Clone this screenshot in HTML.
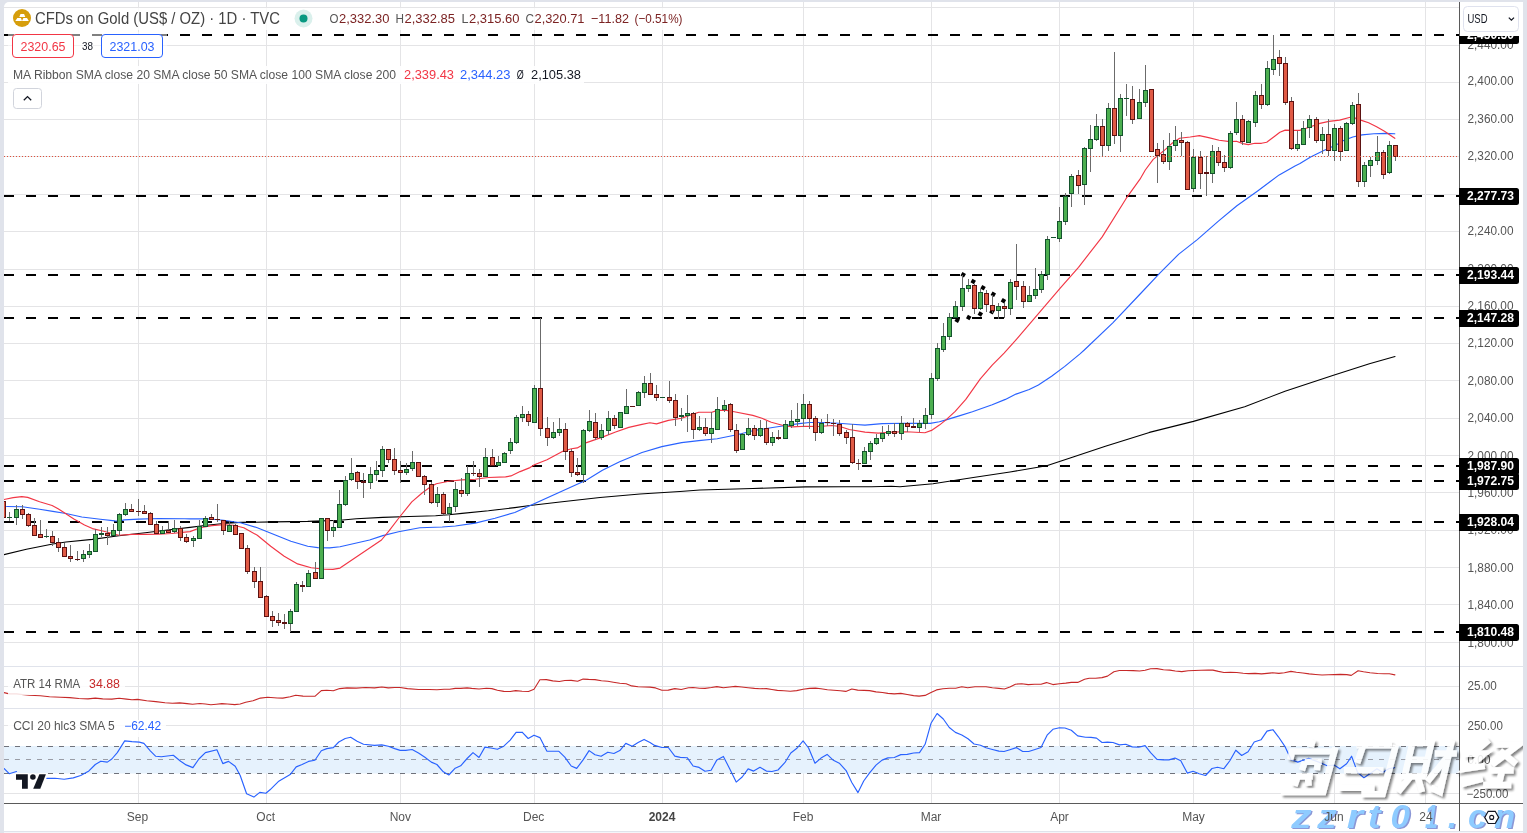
<!DOCTYPE html><html><head><meta charset="utf-8"><title>chart</title><style>html,body{margin:0;padding:0;background:#e0e3eb;}body{width:1527px;height:833px;overflow:hidden;position:relative;font-family:"Liberation Sans",sans-serif;}svg{will-change:transform;transform:translateZ(0);}</style></head><body><svg width="1527" height="833" viewBox="0 0 1527 833" style="position:absolute;left:0;top:0;font-family:'Liberation Sans',sans-serif">
<defs>
<clipPath id="cpMain"><rect x="4" y="2" width="1455" height="664"/></clipPath>
<clipPath id="cpAll"><rect x="4" y="2" width="1455" height="801"/></clipPath>
<filter id="wmsh" x="-10%" y="-20%" width="120%" height="150%"><feDropShadow dx="2.2" dy="2.2" stdDeviation="0.9" flood-color="#000" flood-opacity="0.55"/></filter>
<clipPath id="cpPanel"><rect x="4" y="2" width="1519" height="829"/></clipPath>
</defs>
<rect x="0" y="0" width="1527" height="833" fill="#e0e3eb"/>
<path d="M4 831 V7 a5 5 0 0 1 5 -5 H1518 a5 5 0 0 1 5 5 V831 Z" fill="#fff"/>
<rect x="4" y="832" width="1519" height="1" fill="#f4f5f9"/>
<g shape-rendering="crispEdges">
<rect x="4" y="7" width="1455" height="1" fill="#e4e4e6"/>
<rect x="4" y="45" width="1455" height="1" fill="#e4e4e6"/>
<rect x="4" y="82" width="1455" height="1" fill="#e4e4e6"/>
<rect x="4" y="119" width="1455" height="1" fill="#e4e4e6"/>
<rect x="4" y="156" width="1455" height="1" fill="#e4e4e6"/>
<rect x="4" y="194" width="1455" height="1" fill="#e4e4e6"/>
<rect x="4" y="231" width="1455" height="1" fill="#e4e4e6"/>
<rect x="4" y="269" width="1455" height="1" fill="#e4e4e6"/>
<rect x="4" y="306" width="1455" height="1" fill="#e4e4e6"/>
<rect x="4" y="343" width="1455" height="1" fill="#e4e4e6"/>
<rect x="4" y="380" width="1455" height="1" fill="#e4e4e6"/>
<rect x="4" y="418" width="1455" height="1" fill="#e4e4e6"/>
<rect x="4" y="455" width="1455" height="1" fill="#e4e4e6"/>
<rect x="4" y="492" width="1455" height="1" fill="#e4e4e6"/>
<rect x="4" y="530" width="1455" height="1" fill="#e4e4e6"/>
<rect x="4" y="567" width="1455" height="1" fill="#e4e4e6"/>
<rect x="4" y="604" width="1455" height="1" fill="#e4e4e6"/>
<rect x="4" y="642" width="1455" height="1" fill="#e4e4e6"/>
<rect x="4" y="686" width="1455" height="1" fill="#e4e4e6"/>
<rect x="4" y="725" width="1455" height="1" fill="#e4e4e6"/>
<rect x="4" y="793" width="1455" height="1" fill="#e4e4e6"/>
<rect x="138" y="2" width="1" height="801" fill="#e4e4e6"/>
<rect x="266" y="2" width="1" height="801" fill="#e4e4e6"/>
<rect x="400" y="2" width="1" height="801" fill="#e4e4e6"/>
<rect x="534" y="2" width="1" height="801" fill="#e4e4e6"/>
<rect x="662" y="2" width="1" height="801" fill="#e4e4e6"/>
<rect x="803" y="2" width="1" height="801" fill="#e4e4e6"/>
<rect x="931" y="2" width="1" height="801" fill="#e4e4e6"/>
<rect x="1059" y="2" width="1" height="801" fill="#e4e4e6"/>
<rect x="1193" y="2" width="1" height="801" fill="#e4e4e6"/>
<rect x="1334" y="2" width="1" height="801" fill="#e4e4e6"/>
<rect x="1425" y="2" width="1" height="801" fill="#e4e4e6"/>
<rect x="4" y="666" width="1519" height="1" fill="#e0e3eb"/>
<rect x="4" y="708" width="1519" height="1" fill="#e0e3eb"/>
</g>
<rect x="4" y="746" width="1455" height="27.5" fill="#e6f2fd"/>
<g shape-rendering="crispEdges" stroke-width="1" stroke-dasharray="5 6">
<line x1="4" y1="746.5" x2="1459" y2="746.5" stroke="#6f727b"/>
<line x1="4" y1="759.5" x2="1459" y2="759.5" stroke="#9a9da6"/>
<line x1="48" y1="773.5" x2="1459" y2="773.5" stroke="#6f727b"/>
<line x1="4" y1="773.5" x2="9" y2="773.5" stroke="#6f727b"/>
</g>
<g clip-path="url(#cpMain)" stroke="#000" stroke-width="2" stroke-dasharray="10 12" shape-rendering="crispEdges">
<line x1="4" y1="35" x2="1459" y2="35"/>
<line x1="4" y1="196" x2="1459" y2="196"/>
<line x1="4" y1="275" x2="1459" y2="275"/>
<line x1="4" y1="318" x2="1459" y2="318"/>
<line x1="4" y1="466" x2="1459" y2="466"/>
<line x1="4" y1="481" x2="1459" y2="481"/>
<line x1="4" y1="522" x2="1459" y2="522"/>
<line x1="4" y1="632" x2="1459" y2="632"/>
</g>
<g clip-path="url(#cpMain)" fill="none" stroke-linejoin="round" stroke-linecap="round">
<path d="M4 554.6 L26.4 549.3 L52.8 544 L66 542 L92.4 539.4 L118.8 535.7 L145.2 532.8 L171.6 529.5 L190 527.4 L206.8 525.2 L223.6 523.5 L240.4 522.4 L274.1 521.9 L307.7 521.4 L340 520.2 L356.4 518.7 L382.8 517.4 L409.2 516.5 L435.6 515.8 L448.8 514.8 L462 513.4 L488.4 510.8 L514.8 507.6 L530 505.5 L560 502 L600 497.5 L640 494 L680 491.5 L700 490 L752.8 488.5 L805.6 486.9 L845.2 486.7 L871.6 486.7 L891.4 486.3 L900 486.7 L933 483.7 L973.3 477.5 L1010 472 L1046.7 465.8 L1072.4 457.3 L1105.4 446.3 L1149.4 432.4 L1193.4 421.4 L1244.7 406.7 L1285 391.3 L1332.7 375.6 L1369.4 363.8 L1395 356.5" stroke="#000000" stroke-width="1.1"/>
<path d="M6.6 506.5 L22.4 506.7 L39.6 509.3 L52.8 511.4 L66 513.5 L81.8 517 L100.3 519.2 L114.9 520.9 L119.5 521.2 L124.1 519.9 L138.6 519.1 L158.4 518.5 L184.8 518.8 L190 518.8 L206.8 518.8 L223.6 520.2 L240.4 522.7 L257.3 527.7 L274.1 534.5 L290.9 541.2 L307.7 546.2 L317.8 547.6 L329.6 547.9 L340 546.7 L369.6 540 L382.8 535.6 L398.6 531.7 L419.8 527.7 L442.2 527 L455.4 526 L475.2 523.1 L495 518.2 L514.8 512.5 L586.6 480 L602.4 470.3 L619.6 461.7 L642 452.5 L661.8 446.6 L681.6 442.6 L698.8 440.6 L717.2 438.7 L737 434.8 L752.8 430.8 L772.6 427.5 L785.8 425.5 L799 423.6 L809.6 422.5 L822.8 422.5 L838.6 423.3 L851.8 424.2 L865 425.1 L882.2 423.6 L906.4 423.2 L930.2 423.4 L939.4 421.8 L946 419.9 L959.2 415.9 L972.4 411.7 L992.2 404.7 L1005.4 399.4 L1016 394.1 L1029.2 389.5 L1038.4 384.9 L1051.6 376.3 L1064.8 366.4 L1080 353.9 L1084.3 350 L1112.8 322.8 L1139.2 295 L1160.3 272.6 L1178.8 254.1 L1197.3 239.6 L1218.4 221.1 L1236.9 205.8 L1258 190.7 L1279.2 174.9 L1295 166 L1300 163.6 L1310.6 157 L1323.8 150.4 L1337 144.5 L1343.6 140.5 L1352.8 137 L1362 134.9 L1373.9 133.7 L1385.8 133.4 L1394.8 133.8" stroke="#2962ff" stroke-width="1.15"/>
<path d="M4 499.5 L13.2 497.6 L21.8 496.6 L27.7 497.4 L39.6 501.8 L52.1 505.5 L58.1 508.8 L64.7 513 L73.9 518.9 L84.5 524.9 L92.4 528.6 L101.7 530.8 L109.6 532.8 L118.8 535.2 L132 534.4 L145.2 534.4 L158.4 534.1 L171.6 533.5 L184.8 532.1 L190 531.6 L200.1 527.7 L211.9 525.6 L223.6 524.7 L233.7 525.2 L243.8 527.7 L257.3 535.3 L270.7 546.2 L284.2 556.3 L297.6 563.9 L311.1 567.8 L324.5 569.3 L332.9 569.4 L340 568.1 L381.5 540 L389.4 530.3 L400 516.5 L411.8 501.9 L422.4 492.7 L430.3 487 L436.3 483.7 L448.8 481.2 L462 479.9 L475.2 479.2 L488.4 477.5 L505.6 476.9 L510.9 475.9 L520.1 471.6 L530 467.6 L534.4 464.8 L547 459.8 L562.8 451.2 L571.4 448.8 L577.3 447.9 L586.6 442.6 L602.4 437.1 L615.6 432 L628.8 427.4 L642 424.4 L649.9 422.8 L656.5 423.9 L668.4 420.4 L681.6 418.2 L690.9 414.9 L698.8 412.2 L711.9 412.3 L717.2 410.4 L726.4 410.4 L734.3 411.7 L752.8 415.4 L762 418.3 L771.3 422.2 L783.2 425.5 L792.4 426.9 L805.6 426.2 L818.8 426.5 L832 425.5 L839.9 426.5 L849.2 429.5 L865 432.1 L878.2 433.1 L893.2 432 L906.4 431.7 L924.9 432.7 L931.5 430.4 L939.4 425.1 L946 419.9 L955.2 411.3 L965.8 399.4 L980.3 378.9 L992.2 365.1 L1004.1 353.2 L1015.3 340.7 L1060 288.4 L1078.5 267.3 L1102.2 236.9 L1126 198.7 L1140 179.2 L1145.3 170 L1153.2 159.4 L1163.8 150.8 L1171.7 143.6 L1179.6 138.3 L1190.2 137 L1199.4 135.6 L1208.6 137.6 L1219.2 140.3 L1229.8 141.6 L1236.4 141.2 L1243 143.6 L1248.3 144.6 L1254.9 143.3 L1261.5 143.3 L1266.7 142.2 L1274.7 136.3 L1279.9 132.3 L1285.2 130.1 L1293.1 130.4 L1299.7 130.4 L1309.2 127.3 L1319.8 123.4 L1329 121.4 L1339.6 120.1 L1350.2 117.2 L1355.4 118.1 L1360.7 120.1 L1368.6 122.7 L1376.6 126.7 L1384.5 131.3 L1391.1 135.7 L1394.8 138.3" stroke="#f23645" stroke-width="1.15"/>
</g>
<g fill="#000">
<rect x="961.2" y="272.8" width="4" height="4" transform="rotate(30 963.2 274.8)"/>
<rect x="971.2" y="279.4" width="4" height="4" transform="rotate(30 973.2 281.4)"/>
<rect x="981" y="285.7" width="4" height="4" transform="rotate(30 983 287.7)"/>
<rect x="991.3" y="292.3" width="4" height="4" transform="rotate(30 993.3 294.3)"/>
<rect x="1001.4" y="298.8" width="4" height="4" transform="rotate(30 1003.4 300.8)"/>
<rect x="955.2" y="318.3" width="4" height="4" transform="rotate(30 957.2 320.3)"/>
<rect x="966.7" y="315.4" width="4" height="4" transform="rotate(30 968.7 317.4)"/>
<rect x="978.3" y="312" width="4" height="4" transform="rotate(30 980.3 314)"/>
<rect x="989.9" y="309.8" width="4" height="4" transform="rotate(30 991.9 311.8)"/>
</g>
<g clip-path="url(#cpMain)" shape-rendering="crispEdges">
<rect x="3" y="498" width="1" height="3" fill="#6b6b6b"/>
<rect x="1" y="501" width="5" height="17" fill="#5c1212"/>
<rect x="2" y="502" width="3" height="15" fill="#e05a45"/>
<rect x="9" y="512" width="1" height="5" fill="#6b6b6b"/>
<rect x="9" y="518" width="1" height="3" fill="#6b6b6b"/>
<rect x="7" y="517" width="5" height="1" fill="#14532d"/>
<rect x="16" y="505" width="1" height="4" fill="#6b6b6b"/>
<rect x="16" y="518" width="1" height="7" fill="#6b6b6b"/>
<rect x="14" y="509" width="5" height="9" fill="#14532d"/>
<rect x="15" y="510" width="3" height="7" fill="#4caf50"/>
<rect x="22" y="505" width="1" height="4" fill="#6b6b6b"/>
<rect x="22" y="515" width="1" height="4" fill="#6b6b6b"/>
<rect x="20" y="509" width="5" height="6" fill="#5c1212"/>
<rect x="21" y="510" width="3" height="4" fill="#e05a45"/>
<rect x="28" y="513" width="1" height="1" fill="#6b6b6b"/>
<rect x="28" y="526" width="1" height="1" fill="#6b6b6b"/>
<rect x="26" y="514" width="5" height="12" fill="#5c1212"/>
<rect x="27" y="515" width="3" height="10" fill="#e05a45"/>
<rect x="34" y="518" width="1" height="7" fill="#6b6b6b"/>
<rect x="32" y="525" width="5" height="11" fill="#5c1212"/>
<rect x="33" y="526" width="3" height="9" fill="#e05a45"/>
<rect x="40" y="520" width="1" height="14" fill="#6b6b6b"/>
<rect x="38" y="534" width="5" height="4" fill="#5c1212"/>
<rect x="39" y="535" width="3" height="2" fill="#e05a45"/>
<rect x="46" y="529" width="1" height="7" fill="#6b6b6b"/>
<rect x="46" y="537" width="1" height="1" fill="#6b6b6b"/>
<rect x="44" y="536" width="5" height="1" fill="#14532d"/>
<rect x="52" y="531" width="1" height="5" fill="#6b6b6b"/>
<rect x="52" y="543" width="1" height="3" fill="#6b6b6b"/>
<rect x="50" y="536" width="5" height="7" fill="#5c1212"/>
<rect x="51" y="537" width="3" height="5" fill="#e05a45"/>
<rect x="58" y="538" width="1" height="4" fill="#6b6b6b"/>
<rect x="58" y="548" width="1" height="4" fill="#6b6b6b"/>
<rect x="56" y="542" width="5" height="6" fill="#5c1212"/>
<rect x="57" y="543" width="3" height="4" fill="#e05a45"/>
<rect x="64" y="543" width="1" height="4" fill="#6b6b6b"/>
<rect x="62" y="547" width="5" height="10" fill="#5c1212"/>
<rect x="63" y="548" width="3" height="8" fill="#e05a45"/>
<rect x="70" y="545" width="1" height="11" fill="#6b6b6b"/>
<rect x="70" y="559" width="1" height="3" fill="#6b6b6b"/>
<rect x="68" y="556" width="5" height="3" fill="#5c1212"/>
<rect x="69" y="557" width="3" height="1" fill="#e05a45"/>
<rect x="77" y="551" width="1" height="8" fill="#6b6b6b"/>
<rect x="77" y="560" width="1" height="1" fill="#6b6b6b"/>
<rect x="75" y="559" width="5" height="1" fill="#5c1212"/>
<rect x="83" y="550" width="1" height="4" fill="#6b6b6b"/>
<rect x="83" y="559" width="1" height="3" fill="#6b6b6b"/>
<rect x="81" y="554" width="5" height="5" fill="#14532d"/>
<rect x="82" y="555" width="3" height="3" fill="#4caf50"/>
<rect x="89" y="544" width="1" height="7" fill="#6b6b6b"/>
<rect x="89" y="555" width="1" height="3" fill="#6b6b6b"/>
<rect x="87" y="551" width="5" height="4" fill="#14532d"/>
<rect x="88" y="552" width="3" height="2" fill="#4caf50"/>
<rect x="95" y="529" width="1" height="5" fill="#6b6b6b"/>
<rect x="93" y="534" width="5" height="18" fill="#14532d"/>
<rect x="94" y="535" width="3" height="16" fill="#4caf50"/>
<rect x="101" y="527" width="1" height="6" fill="#6b6b6b"/>
<rect x="101" y="535" width="1" height="2" fill="#6b6b6b"/>
<rect x="99" y="533" width="5" height="2" fill="#14532d"/>
<rect x="107" y="527" width="1" height="6" fill="#6b6b6b"/>
<rect x="107" y="536" width="1" height="9" fill="#6b6b6b"/>
<rect x="105" y="533" width="5" height="3" fill="#5c1212"/>
<rect x="106" y="534" width="3" height="1" fill="#e05a45"/>
<rect x="113" y="524" width="1" height="6" fill="#6b6b6b"/>
<rect x="111" y="530" width="5" height="6" fill="#14532d"/>
<rect x="112" y="531" width="3" height="4" fill="#4caf50"/>
<rect x="119" y="513" width="1" height="1" fill="#6b6b6b"/>
<rect x="119" y="531" width="1" height="5" fill="#6b6b6b"/>
<rect x="117" y="514" width="5" height="17" fill="#14532d"/>
<rect x="118" y="515" width="3" height="15" fill="#4caf50"/>
<rect x="125" y="503" width="1" height="6" fill="#6b6b6b"/>
<rect x="125" y="515" width="1" height="1" fill="#6b6b6b"/>
<rect x="123" y="509" width="5" height="6" fill="#14532d"/>
<rect x="124" y="510" width="3" height="4" fill="#4caf50"/>
<rect x="131" y="504" width="1" height="5" fill="#6b6b6b"/>
<rect x="129" y="509" width="5" height="3" fill="#5c1212"/>
<rect x="130" y="510" width="3" height="1" fill="#e05a45"/>
<rect x="138" y="499" width="1" height="12" fill="#6b6b6b"/>
<rect x="138" y="512" width="1" height="4" fill="#6b6b6b"/>
<rect x="136" y="511" width="5" height="1" fill="#5c1212"/>
<rect x="144" y="505" width="1" height="6" fill="#6b6b6b"/>
<rect x="142" y="511" width="5" height="3" fill="#5c1212"/>
<rect x="143" y="512" width="3" height="1" fill="#e05a45"/>
<rect x="150" y="512" width="1" height="1" fill="#6b6b6b"/>
<rect x="148" y="513" width="5" height="12" fill="#5c1212"/>
<rect x="149" y="514" width="3" height="10" fill="#e05a45"/>
<rect x="156" y="521" width="1" height="3" fill="#6b6b6b"/>
<rect x="154" y="524" width="5" height="10" fill="#5c1212"/>
<rect x="155" y="525" width="3" height="8" fill="#e05a45"/>
<rect x="162" y="526" width="1" height="4" fill="#6b6b6b"/>
<rect x="160" y="530" width="5" height="4" fill="#14532d"/>
<rect x="161" y="531" width="3" height="2" fill="#4caf50"/>
<rect x="168" y="521" width="1" height="9" fill="#6b6b6b"/>
<rect x="166" y="530" width="5" height="3" fill="#5c1212"/>
<rect x="167" y="531" width="3" height="1" fill="#e05a45"/>
<rect x="174" y="520" width="1" height="8" fill="#6b6b6b"/>
<rect x="174" y="532" width="1" height="1" fill="#6b6b6b"/>
<rect x="172" y="528" width="5" height="4" fill="#14532d"/>
<rect x="173" y="529" width="3" height="2" fill="#4caf50"/>
<rect x="180" y="526" width="1" height="2" fill="#6b6b6b"/>
<rect x="180" y="538" width="1" height="3" fill="#6b6b6b"/>
<rect x="178" y="528" width="5" height="10" fill="#5c1212"/>
<rect x="179" y="529" width="3" height="8" fill="#e05a45"/>
<rect x="186" y="534" width="1" height="3" fill="#6b6b6b"/>
<rect x="186" y="542" width="1" height="1" fill="#6b6b6b"/>
<rect x="184" y="537" width="5" height="5" fill="#5c1212"/>
<rect x="185" y="538" width="3" height="3" fill="#e05a45"/>
<rect x="193" y="536" width="1" height="2" fill="#6b6b6b"/>
<rect x="193" y="541" width="1" height="6" fill="#6b6b6b"/>
<rect x="191" y="538" width="5" height="3" fill="#14532d"/>
<rect x="192" y="539" width="3" height="1" fill="#4caf50"/>
<rect x="199" y="520" width="1" height="6" fill="#6b6b6b"/>
<rect x="197" y="526" width="5" height="13" fill="#14532d"/>
<rect x="198" y="527" width="3" height="11" fill="#4caf50"/>
<rect x="205" y="516" width="1" height="2" fill="#6b6b6b"/>
<rect x="203" y="518" width="5" height="9" fill="#14532d"/>
<rect x="204" y="519" width="3" height="7" fill="#4caf50"/>
<rect x="211" y="514" width="1" height="3" fill="#6b6b6b"/>
<rect x="209" y="517" width="5" height="3" fill="#5c1212"/>
<rect x="210" y="518" width="3" height="1" fill="#e05a45"/>
<rect x="217" y="504" width="1" height="15" fill="#6b6b6b"/>
<rect x="217" y="520" width="1" height="2" fill="#6b6b6b"/>
<rect x="215" y="519" width="5" height="1" fill="#5c1212"/>
<rect x="223" y="531" width="1" height="4" fill="#6b6b6b"/>
<rect x="221" y="520" width="5" height="11" fill="#5c1212"/>
<rect x="222" y="521" width="3" height="9" fill="#e05a45"/>
<rect x="229" y="521" width="1" height="4" fill="#6b6b6b"/>
<rect x="227" y="525" width="5" height="7" fill="#14532d"/>
<rect x="228" y="526" width="3" height="5" fill="#4caf50"/>
<rect x="235" y="524" width="1" height="1" fill="#6b6b6b"/>
<rect x="233" y="525" width="5" height="10" fill="#5c1212"/>
<rect x="234" y="526" width="3" height="8" fill="#e05a45"/>
<rect x="239" y="533" width="5" height="16" fill="#5c1212"/>
<rect x="240" y="534" width="3" height="14" fill="#e05a45"/>
<rect x="247" y="545" width="1" height="3" fill="#6b6b6b"/>
<rect x="247" y="572" width="1" height="2" fill="#6b6b6b"/>
<rect x="245" y="548" width="5" height="24" fill="#5c1212"/>
<rect x="246" y="549" width="3" height="22" fill="#e05a45"/>
<rect x="254" y="567" width="1" height="4" fill="#6b6b6b"/>
<rect x="254" y="582" width="1" height="6" fill="#6b6b6b"/>
<rect x="252" y="571" width="5" height="11" fill="#5c1212"/>
<rect x="253" y="572" width="3" height="9" fill="#e05a45"/>
<rect x="260" y="567" width="1" height="14" fill="#6b6b6b"/>
<rect x="258" y="581" width="5" height="17" fill="#5c1212"/>
<rect x="259" y="582" width="3" height="15" fill="#e05a45"/>
<rect x="266" y="595" width="1" height="1" fill="#6b6b6b"/>
<rect x="264" y="596" width="5" height="21" fill="#5c1212"/>
<rect x="265" y="597" width="3" height="19" fill="#e05a45"/>
<rect x="272" y="611" width="1" height="5" fill="#6b6b6b"/>
<rect x="272" y="621" width="1" height="6" fill="#6b6b6b"/>
<rect x="270" y="616" width="5" height="5" fill="#5c1212"/>
<rect x="271" y="617" width="3" height="3" fill="#e05a45"/>
<rect x="278" y="613" width="1" height="7" fill="#6b6b6b"/>
<rect x="278" y="623" width="1" height="3" fill="#6b6b6b"/>
<rect x="276" y="620" width="5" height="3" fill="#5c1212"/>
<rect x="277" y="621" width="3" height="1" fill="#e05a45"/>
<rect x="284" y="614" width="1" height="8" fill="#6b6b6b"/>
<rect x="284" y="624" width="1" height="5" fill="#6b6b6b"/>
<rect x="282" y="622" width="5" height="2" fill="#5c1212"/>
<rect x="290" y="609" width="1" height="2" fill="#6b6b6b"/>
<rect x="290" y="624" width="1" height="8" fill="#6b6b6b"/>
<rect x="288" y="611" width="5" height="13" fill="#14532d"/>
<rect x="289" y="612" width="3" height="11" fill="#4caf50"/>
<rect x="296" y="582" width="1" height="2" fill="#6b6b6b"/>
<rect x="294" y="584" width="5" height="28" fill="#14532d"/>
<rect x="295" y="585" width="3" height="26" fill="#4caf50"/>
<rect x="302" y="581" width="1" height="4" fill="#6b6b6b"/>
<rect x="302" y="587" width="1" height="5" fill="#6b6b6b"/>
<rect x="300" y="585" width="5" height="2" fill="#5c1212"/>
<rect x="308" y="570" width="1" height="3" fill="#6b6b6b"/>
<rect x="306" y="573" width="5" height="14" fill="#14532d"/>
<rect x="307" y="574" width="3" height="12" fill="#4caf50"/>
<rect x="315" y="562" width="1" height="10" fill="#6b6b6b"/>
<rect x="313" y="572" width="5" height="7" fill="#5c1212"/>
<rect x="314" y="573" width="3" height="5" fill="#e05a45"/>
<rect x="319" y="518" width="5" height="61" fill="#14532d"/>
<rect x="320" y="519" width="3" height="59" fill="#4caf50"/>
<rect x="327" y="531" width="1" height="10" fill="#6b6b6b"/>
<rect x="325" y="518" width="5" height="13" fill="#5c1212"/>
<rect x="326" y="519" width="3" height="11" fill="#e05a45"/>
<rect x="333" y="520" width="1" height="7" fill="#6b6b6b"/>
<rect x="333" y="531" width="1" height="6" fill="#6b6b6b"/>
<rect x="331" y="527" width="5" height="4" fill="#14532d"/>
<rect x="332" y="528" width="3" height="2" fill="#4caf50"/>
<rect x="339" y="490" width="1" height="14" fill="#6b6b6b"/>
<rect x="337" y="504" width="5" height="24" fill="#14532d"/>
<rect x="338" y="505" width="3" height="22" fill="#4caf50"/>
<rect x="345" y="476" width="1" height="4" fill="#6b6b6b"/>
<rect x="345" y="505" width="1" height="1" fill="#6b6b6b"/>
<rect x="343" y="480" width="5" height="25" fill="#14532d"/>
<rect x="344" y="481" width="3" height="23" fill="#4caf50"/>
<rect x="351" y="458" width="1" height="15" fill="#6b6b6b"/>
<rect x="351" y="480" width="1" height="1" fill="#6b6b6b"/>
<rect x="349" y="473" width="5" height="7" fill="#14532d"/>
<rect x="350" y="474" width="3" height="5" fill="#4caf50"/>
<rect x="357" y="471" width="1" height="1" fill="#6b6b6b"/>
<rect x="357" y="482" width="1" height="7" fill="#6b6b6b"/>
<rect x="355" y="472" width="5" height="10" fill="#5c1212"/>
<rect x="356" y="473" width="3" height="8" fill="#e05a45"/>
<rect x="363" y="473" width="1" height="8" fill="#6b6b6b"/>
<rect x="363" y="483" width="1" height="15" fill="#6b6b6b"/>
<rect x="361" y="481" width="5" height="2" fill="#5c1212"/>
<rect x="370" y="467" width="1" height="7" fill="#6b6b6b"/>
<rect x="370" y="483" width="1" height="6" fill="#6b6b6b"/>
<rect x="368" y="474" width="5" height="9" fill="#14532d"/>
<rect x="369" y="475" width="3" height="7" fill="#4caf50"/>
<rect x="376" y="461" width="1" height="9" fill="#6b6b6b"/>
<rect x="376" y="475" width="1" height="6" fill="#6b6b6b"/>
<rect x="374" y="470" width="5" height="5" fill="#14532d"/>
<rect x="375" y="471" width="3" height="3" fill="#4caf50"/>
<rect x="382" y="446" width="1" height="3" fill="#6b6b6b"/>
<rect x="382" y="471" width="1" height="6" fill="#6b6b6b"/>
<rect x="380" y="449" width="5" height="22" fill="#14532d"/>
<rect x="381" y="450" width="3" height="20" fill="#4caf50"/>
<rect x="388" y="460" width="1" height="3" fill="#6b6b6b"/>
<rect x="386" y="449" width="5" height="11" fill="#5c1212"/>
<rect x="387" y="450" width="3" height="9" fill="#e05a45"/>
<rect x="394" y="448" width="1" height="11" fill="#6b6b6b"/>
<rect x="394" y="471" width="1" height="4" fill="#6b6b6b"/>
<rect x="392" y="459" width="5" height="12" fill="#5c1212"/>
<rect x="393" y="460" width="3" height="10" fill="#e05a45"/>
<rect x="400" y="461" width="1" height="9" fill="#6b6b6b"/>
<rect x="400" y="473" width="1" height="10" fill="#6b6b6b"/>
<rect x="398" y="470" width="5" height="3" fill="#5c1212"/>
<rect x="399" y="471" width="3" height="1" fill="#e05a45"/>
<rect x="406" y="463" width="1" height="6" fill="#6b6b6b"/>
<rect x="406" y="473" width="1" height="2" fill="#6b6b6b"/>
<rect x="404" y="469" width="5" height="4" fill="#14532d"/>
<rect x="405" y="470" width="3" height="2" fill="#4caf50"/>
<rect x="412" y="451" width="1" height="11" fill="#6b6b6b"/>
<rect x="412" y="469" width="1" height="2" fill="#6b6b6b"/>
<rect x="410" y="462" width="5" height="7" fill="#14532d"/>
<rect x="411" y="463" width="3" height="5" fill="#4caf50"/>
<rect x="416" y="462" width="5" height="15" fill="#5c1212"/>
<rect x="417" y="463" width="3" height="13" fill="#e05a45"/>
<rect x="424" y="475" width="1" height="1" fill="#6b6b6b"/>
<rect x="424" y="485" width="1" height="10" fill="#6b6b6b"/>
<rect x="422" y="476" width="5" height="9" fill="#5c1212"/>
<rect x="423" y="477" width="3" height="7" fill="#e05a45"/>
<rect x="431" y="482" width="1" height="2" fill="#6b6b6b"/>
<rect x="431" y="503" width="1" height="1" fill="#6b6b6b"/>
<rect x="429" y="484" width="5" height="19" fill="#5c1212"/>
<rect x="430" y="485" width="3" height="17" fill="#e05a45"/>
<rect x="437" y="487" width="1" height="7" fill="#6b6b6b"/>
<rect x="437" y="503" width="1" height="4" fill="#6b6b6b"/>
<rect x="435" y="494" width="5" height="9" fill="#14532d"/>
<rect x="436" y="495" width="3" height="7" fill="#4caf50"/>
<rect x="443" y="492" width="1" height="2" fill="#6b6b6b"/>
<rect x="443" y="514" width="1" height="2" fill="#6b6b6b"/>
<rect x="441" y="494" width="5" height="20" fill="#5c1212"/>
<rect x="442" y="495" width="3" height="18" fill="#e05a45"/>
<rect x="449" y="503" width="1" height="4" fill="#6b6b6b"/>
<rect x="449" y="514" width="1" height="8" fill="#6b6b6b"/>
<rect x="447" y="507" width="5" height="7" fill="#14532d"/>
<rect x="448" y="508" width="3" height="5" fill="#4caf50"/>
<rect x="455" y="482" width="1" height="7" fill="#6b6b6b"/>
<rect x="455" y="507" width="1" height="5" fill="#6b6b6b"/>
<rect x="453" y="489" width="5" height="18" fill="#14532d"/>
<rect x="454" y="490" width="3" height="16" fill="#4caf50"/>
<rect x="461" y="478" width="1" height="12" fill="#6b6b6b"/>
<rect x="461" y="494" width="1" height="3" fill="#6b6b6b"/>
<rect x="459" y="490" width="5" height="4" fill="#5c1212"/>
<rect x="460" y="491" width="3" height="2" fill="#e05a45"/>
<rect x="467" y="466" width="1" height="7" fill="#6b6b6b"/>
<rect x="467" y="494" width="1" height="2" fill="#6b6b6b"/>
<rect x="465" y="473" width="5" height="21" fill="#14532d"/>
<rect x="466" y="474" width="3" height="19" fill="#4caf50"/>
<rect x="473" y="461" width="1" height="12" fill="#6b6b6b"/>
<rect x="473" y="474" width="1" height="2" fill="#6b6b6b"/>
<rect x="471" y="473" width="5" height="1" fill="#5c1212"/>
<rect x="479" y="469" width="1" height="4" fill="#6b6b6b"/>
<rect x="479" y="477" width="1" height="10" fill="#6b6b6b"/>
<rect x="477" y="473" width="5" height="4" fill="#5c1212"/>
<rect x="478" y="474" width="3" height="2" fill="#e05a45"/>
<rect x="485" y="448" width="1" height="9" fill="#6b6b6b"/>
<rect x="483" y="457" width="5" height="20" fill="#14532d"/>
<rect x="484" y="458" width="3" height="18" fill="#4caf50"/>
<rect x="492" y="449" width="1" height="8" fill="#6b6b6b"/>
<rect x="490" y="457" width="5" height="9" fill="#5c1212"/>
<rect x="491" y="458" width="3" height="7" fill="#e05a45"/>
<rect x="498" y="456" width="1" height="6" fill="#6b6b6b"/>
<rect x="496" y="462" width="5" height="4" fill="#14532d"/>
<rect x="497" y="463" width="3" height="2" fill="#4caf50"/>
<rect x="504" y="452" width="1" height="1" fill="#6b6b6b"/>
<rect x="502" y="453" width="5" height="10" fill="#14532d"/>
<rect x="503" y="454" width="3" height="8" fill="#4caf50"/>
<rect x="510" y="438" width="1" height="4" fill="#6b6b6b"/>
<rect x="510" y="451" width="1" height="3" fill="#6b6b6b"/>
<rect x="508" y="442" width="5" height="9" fill="#14532d"/>
<rect x="509" y="443" width="3" height="7" fill="#4caf50"/>
<rect x="516" y="415" width="1" height="2" fill="#6b6b6b"/>
<rect x="516" y="443" width="1" height="1" fill="#6b6b6b"/>
<rect x="514" y="417" width="5" height="26" fill="#14532d"/>
<rect x="515" y="418" width="3" height="24" fill="#4caf50"/>
<rect x="522" y="406" width="1" height="8" fill="#6b6b6b"/>
<rect x="522" y="418" width="1" height="4" fill="#6b6b6b"/>
<rect x="520" y="414" width="5" height="4" fill="#14532d"/>
<rect x="521" y="415" width="3" height="2" fill="#4caf50"/>
<rect x="528" y="411" width="1" height="3" fill="#6b6b6b"/>
<rect x="528" y="422" width="1" height="4" fill="#6b6b6b"/>
<rect x="526" y="414" width="5" height="8" fill="#5c1212"/>
<rect x="527" y="415" width="3" height="6" fill="#e05a45"/>
<rect x="534" y="385" width="1" height="3" fill="#6b6b6b"/>
<rect x="532" y="388" width="5" height="35" fill="#14532d"/>
<rect x="533" y="389" width="3" height="33" fill="#4caf50"/>
<rect x="540" y="318" width="1" height="70" fill="#6b6b6b"/>
<rect x="540" y="429" width="1" height="7" fill="#6b6b6b"/>
<rect x="538" y="388" width="5" height="41" fill="#5c1212"/>
<rect x="539" y="389" width="3" height="39" fill="#e05a45"/>
<rect x="547" y="417" width="1" height="11" fill="#6b6b6b"/>
<rect x="547" y="438" width="1" height="8" fill="#6b6b6b"/>
<rect x="545" y="428" width="5" height="10" fill="#5c1212"/>
<rect x="546" y="429" width="3" height="8" fill="#e05a45"/>
<rect x="553" y="422" width="1" height="10" fill="#6b6b6b"/>
<rect x="553" y="438" width="1" height="1" fill="#6b6b6b"/>
<rect x="551" y="432" width="5" height="6" fill="#14532d"/>
<rect x="552" y="433" width="3" height="4" fill="#4caf50"/>
<rect x="559" y="418" width="1" height="11" fill="#6b6b6b"/>
<rect x="559" y="433" width="1" height="3" fill="#6b6b6b"/>
<rect x="557" y="429" width="5" height="4" fill="#14532d"/>
<rect x="558" y="430" width="3" height="2" fill="#4caf50"/>
<rect x="565" y="423" width="1" height="6" fill="#6b6b6b"/>
<rect x="565" y="452" width="1" height="8" fill="#6b6b6b"/>
<rect x="563" y="429" width="5" height="23" fill="#5c1212"/>
<rect x="564" y="430" width="3" height="21" fill="#e05a45"/>
<rect x="571" y="449" width="1" height="2" fill="#6b6b6b"/>
<rect x="571" y="473" width="1" height="4" fill="#6b6b6b"/>
<rect x="569" y="451" width="5" height="22" fill="#5c1212"/>
<rect x="570" y="452" width="3" height="20" fill="#e05a45"/>
<rect x="577" y="458" width="1" height="14" fill="#6b6b6b"/>
<rect x="577" y="475" width="1" height="1" fill="#6b6b6b"/>
<rect x="575" y="472" width="5" height="3" fill="#5c1212"/>
<rect x="576" y="473" width="3" height="1" fill="#e05a45"/>
<rect x="583" y="429" width="1" height="1" fill="#6b6b6b"/>
<rect x="583" y="475" width="1" height="8" fill="#6b6b6b"/>
<rect x="581" y="430" width="5" height="45" fill="#14532d"/>
<rect x="582" y="431" width="3" height="43" fill="#4caf50"/>
<rect x="589" y="410" width="1" height="11" fill="#6b6b6b"/>
<rect x="589" y="431" width="1" height="1" fill="#6b6b6b"/>
<rect x="587" y="421" width="5" height="10" fill="#14532d"/>
<rect x="588" y="422" width="3" height="8" fill="#4caf50"/>
<rect x="595" y="413" width="1" height="9" fill="#6b6b6b"/>
<rect x="595" y="438" width="1" height="2" fill="#6b6b6b"/>
<rect x="593" y="422" width="5" height="16" fill="#5c1212"/>
<rect x="594" y="423" width="3" height="14" fill="#e05a45"/>
<rect x="601" y="424" width="1" height="6" fill="#6b6b6b"/>
<rect x="601" y="438" width="1" height="2" fill="#6b6b6b"/>
<rect x="599" y="430" width="5" height="8" fill="#14532d"/>
<rect x="600" y="431" width="3" height="6" fill="#4caf50"/>
<rect x="608" y="411" width="1" height="7" fill="#6b6b6b"/>
<rect x="608" y="431" width="1" height="4" fill="#6b6b6b"/>
<rect x="606" y="418" width="5" height="13" fill="#14532d"/>
<rect x="607" y="419" width="3" height="11" fill="#4caf50"/>
<rect x="614" y="415" width="1" height="3" fill="#6b6b6b"/>
<rect x="614" y="426" width="1" height="3" fill="#6b6b6b"/>
<rect x="612" y="418" width="5" height="8" fill="#5c1212"/>
<rect x="613" y="419" width="3" height="6" fill="#e05a45"/>
<rect x="618" y="412" width="5" height="16" fill="#14532d"/>
<rect x="619" y="413" width="3" height="14" fill="#4caf50"/>
<rect x="626" y="389" width="1" height="17" fill="#6b6b6b"/>
<rect x="624" y="406" width="5" height="8" fill="#14532d"/>
<rect x="625" y="407" width="3" height="6" fill="#4caf50"/>
<rect x="630" y="406" width="5" height="1" fill="#5c1212"/>
<rect x="638" y="391" width="1" height="1" fill="#6b6b6b"/>
<rect x="636" y="392" width="5" height="14" fill="#14532d"/>
<rect x="637" y="393" width="3" height="12" fill="#4caf50"/>
<rect x="644" y="376" width="1" height="7" fill="#6b6b6b"/>
<rect x="644" y="393" width="1" height="5" fill="#6b6b6b"/>
<rect x="642" y="383" width="5" height="10" fill="#14532d"/>
<rect x="643" y="384" width="3" height="8" fill="#4caf50"/>
<rect x="650" y="373" width="1" height="10" fill="#6b6b6b"/>
<rect x="648" y="383" width="5" height="12" fill="#5c1212"/>
<rect x="649" y="384" width="3" height="10" fill="#e05a45"/>
<rect x="656" y="385" width="1" height="9" fill="#6b6b6b"/>
<rect x="656" y="398" width="1" height="3" fill="#6b6b6b"/>
<rect x="654" y="394" width="5" height="4" fill="#5c1212"/>
<rect x="655" y="395" width="3" height="2" fill="#e05a45"/>
<rect x="660" y="397" width="5" height="1" fill="#14532d"/>
<rect x="669" y="381" width="1" height="16" fill="#6b6b6b"/>
<rect x="669" y="401" width="1" height="2" fill="#6b6b6b"/>
<rect x="667" y="397" width="5" height="4" fill="#5c1212"/>
<rect x="668" y="398" width="3" height="2" fill="#e05a45"/>
<rect x="675" y="394" width="1" height="6" fill="#6b6b6b"/>
<rect x="675" y="418" width="1" height="8" fill="#6b6b6b"/>
<rect x="673" y="400" width="5" height="18" fill="#5c1212"/>
<rect x="674" y="401" width="3" height="16" fill="#e05a45"/>
<rect x="681" y="408" width="1" height="7" fill="#6b6b6b"/>
<rect x="681" y="417" width="1" height="4" fill="#6b6b6b"/>
<rect x="679" y="415" width="5" height="2" fill="#14532d"/>
<rect x="687" y="395" width="1" height="18" fill="#6b6b6b"/>
<rect x="687" y="416" width="1" height="16" fill="#6b6b6b"/>
<rect x="685" y="413" width="5" height="3" fill="#14532d"/>
<rect x="686" y="414" width="3" height="1" fill="#4caf50"/>
<rect x="693" y="412" width="1" height="1" fill="#6b6b6b"/>
<rect x="693" y="430" width="1" height="9" fill="#6b6b6b"/>
<rect x="691" y="413" width="5" height="17" fill="#5c1212"/>
<rect x="692" y="414" width="3" height="15" fill="#e05a45"/>
<rect x="699" y="416" width="1" height="11" fill="#6b6b6b"/>
<rect x="699" y="430" width="1" height="1" fill="#6b6b6b"/>
<rect x="697" y="427" width="5" height="3" fill="#14532d"/>
<rect x="698" y="428" width="3" height="1" fill="#4caf50"/>
<rect x="705" y="418" width="1" height="9" fill="#6b6b6b"/>
<rect x="705" y="434" width="1" height="2" fill="#6b6b6b"/>
<rect x="703" y="427" width="5" height="7" fill="#5c1212"/>
<rect x="704" y="428" width="3" height="5" fill="#e05a45"/>
<rect x="711" y="412" width="1" height="16" fill="#6b6b6b"/>
<rect x="711" y="434" width="1" height="9" fill="#6b6b6b"/>
<rect x="709" y="428" width="5" height="6" fill="#14532d"/>
<rect x="710" y="429" width="3" height="4" fill="#4caf50"/>
<rect x="717" y="397" width="1" height="12" fill="#6b6b6b"/>
<rect x="715" y="409" width="5" height="21" fill="#14532d"/>
<rect x="716" y="410" width="3" height="19" fill="#4caf50"/>
<rect x="724" y="400" width="1" height="5" fill="#6b6b6b"/>
<rect x="724" y="410" width="1" height="2" fill="#6b6b6b"/>
<rect x="722" y="405" width="5" height="5" fill="#14532d"/>
<rect x="723" y="406" width="3" height="3" fill="#4caf50"/>
<rect x="730" y="403" width="1" height="1" fill="#6b6b6b"/>
<rect x="730" y="430" width="1" height="2" fill="#6b6b6b"/>
<rect x="728" y="404" width="5" height="26" fill="#5c1212"/>
<rect x="729" y="405" width="3" height="24" fill="#e05a45"/>
<rect x="736" y="424" width="1" height="6" fill="#6b6b6b"/>
<rect x="736" y="451" width="1" height="2" fill="#6b6b6b"/>
<rect x="734" y="430" width="5" height="21" fill="#5c1212"/>
<rect x="735" y="431" width="3" height="19" fill="#e05a45"/>
<rect x="742" y="433" width="1" height="1" fill="#6b6b6b"/>
<rect x="740" y="434" width="5" height="16" fill="#14532d"/>
<rect x="741" y="435" width="3" height="14" fill="#4caf50"/>
<rect x="748" y="418" width="1" height="10" fill="#6b6b6b"/>
<rect x="748" y="435" width="1" height="1" fill="#6b6b6b"/>
<rect x="746" y="428" width="5" height="7" fill="#14532d"/>
<rect x="747" y="429" width="3" height="5" fill="#4caf50"/>
<rect x="754" y="425" width="1" height="3" fill="#6b6b6b"/>
<rect x="754" y="436" width="1" height="4" fill="#6b6b6b"/>
<rect x="752" y="428" width="5" height="8" fill="#5c1212"/>
<rect x="753" y="429" width="3" height="6" fill="#e05a45"/>
<rect x="760" y="420" width="1" height="8" fill="#6b6b6b"/>
<rect x="760" y="436" width="1" height="1" fill="#6b6b6b"/>
<rect x="758" y="428" width="5" height="8" fill="#14532d"/>
<rect x="759" y="429" width="3" height="6" fill="#4caf50"/>
<rect x="766" y="421" width="1" height="7" fill="#6b6b6b"/>
<rect x="766" y="443" width="1" height="2" fill="#6b6b6b"/>
<rect x="764" y="428" width="5" height="15" fill="#5c1212"/>
<rect x="765" y="429" width="3" height="13" fill="#e05a45"/>
<rect x="772" y="432" width="1" height="5" fill="#6b6b6b"/>
<rect x="772" y="443" width="1" height="3" fill="#6b6b6b"/>
<rect x="770" y="437" width="5" height="6" fill="#14532d"/>
<rect x="771" y="438" width="3" height="4" fill="#4caf50"/>
<rect x="778" y="430" width="1" height="7" fill="#6b6b6b"/>
<rect x="778" y="439" width="1" height="1" fill="#6b6b6b"/>
<rect x="776" y="437" width="5" height="2" fill="#5c1212"/>
<rect x="785" y="420" width="1" height="4" fill="#6b6b6b"/>
<rect x="783" y="424" width="5" height="15" fill="#14532d"/>
<rect x="784" y="425" width="3" height="13" fill="#4caf50"/>
<rect x="791" y="410" width="1" height="11" fill="#6b6b6b"/>
<rect x="791" y="426" width="1" height="2" fill="#6b6b6b"/>
<rect x="789" y="421" width="5" height="5" fill="#14532d"/>
<rect x="790" y="422" width="3" height="3" fill="#4caf50"/>
<rect x="797" y="403" width="1" height="16" fill="#6b6b6b"/>
<rect x="797" y="422" width="1" height="4" fill="#6b6b6b"/>
<rect x="795" y="419" width="5" height="3" fill="#14532d"/>
<rect x="796" y="420" width="3" height="1" fill="#4caf50"/>
<rect x="803" y="394" width="1" height="10" fill="#6b6b6b"/>
<rect x="803" y="419" width="1" height="8" fill="#6b6b6b"/>
<rect x="801" y="404" width="5" height="15" fill="#14532d"/>
<rect x="802" y="405" width="3" height="13" fill="#4caf50"/>
<rect x="809" y="401" width="1" height="3" fill="#6b6b6b"/>
<rect x="809" y="419" width="1" height="10" fill="#6b6b6b"/>
<rect x="807" y="404" width="5" height="15" fill="#5c1212"/>
<rect x="808" y="405" width="3" height="13" fill="#e05a45"/>
<rect x="815" y="416" width="1" height="2" fill="#6b6b6b"/>
<rect x="815" y="433" width="1" height="8" fill="#6b6b6b"/>
<rect x="813" y="418" width="5" height="15" fill="#5c1212"/>
<rect x="814" y="419" width="3" height="13" fill="#e05a45"/>
<rect x="821" y="419" width="1" height="4" fill="#6b6b6b"/>
<rect x="821" y="433" width="1" height="1" fill="#6b6b6b"/>
<rect x="819" y="423" width="5" height="10" fill="#14532d"/>
<rect x="820" y="424" width="3" height="8" fill="#4caf50"/>
<rect x="827" y="414" width="1" height="8" fill="#6b6b6b"/>
<rect x="827" y="423" width="1" height="3" fill="#6b6b6b"/>
<rect x="825" y="422" width="5" height="1" fill="#5c1212"/>
<rect x="833" y="419" width="1" height="4" fill="#6b6b6b"/>
<rect x="833" y="424" width="1" height="12" fill="#6b6b6b"/>
<rect x="831" y="423" width="5" height="1" fill="#5c1212"/>
<rect x="839" y="420" width="1" height="4" fill="#6b6b6b"/>
<rect x="839" y="434" width="1" height="2" fill="#6b6b6b"/>
<rect x="837" y="424" width="5" height="10" fill="#5c1212"/>
<rect x="838" y="425" width="3" height="8" fill="#e05a45"/>
<rect x="846" y="430" width="1" height="2" fill="#6b6b6b"/>
<rect x="846" y="438" width="1" height="6" fill="#6b6b6b"/>
<rect x="844" y="432" width="5" height="6" fill="#5c1212"/>
<rect x="845" y="433" width="3" height="4" fill="#e05a45"/>
<rect x="852" y="424" width="1" height="13" fill="#6b6b6b"/>
<rect x="852" y="463" width="1" height="1" fill="#6b6b6b"/>
<rect x="850" y="437" width="5" height="26" fill="#5c1212"/>
<rect x="851" y="438" width="3" height="24" fill="#e05a45"/>
<rect x="858" y="459" width="1" height="4" fill="#6b6b6b"/>
<rect x="858" y="464" width="1" height="6" fill="#6b6b6b"/>
<rect x="856" y="463" width="5" height="1" fill="#5c1212"/>
<rect x="864" y="447" width="1" height="4" fill="#6b6b6b"/>
<rect x="862" y="451" width="5" height="13" fill="#14532d"/>
<rect x="863" y="452" width="3" height="11" fill="#4caf50"/>
<rect x="870" y="441" width="1" height="2" fill="#6b6b6b"/>
<rect x="870" y="452" width="1" height="8" fill="#6b6b6b"/>
<rect x="868" y="443" width="5" height="9" fill="#14532d"/>
<rect x="869" y="444" width="3" height="7" fill="#4caf50"/>
<rect x="876" y="434" width="1" height="4" fill="#6b6b6b"/>
<rect x="876" y="444" width="1" height="1" fill="#6b6b6b"/>
<rect x="874" y="438" width="5" height="6" fill="#14532d"/>
<rect x="875" y="439" width="3" height="4" fill="#4caf50"/>
<rect x="882" y="426" width="1" height="7" fill="#6b6b6b"/>
<rect x="882" y="439" width="1" height="3" fill="#6b6b6b"/>
<rect x="880" y="433" width="5" height="6" fill="#14532d"/>
<rect x="881" y="434" width="3" height="4" fill="#4caf50"/>
<rect x="888" y="425" width="1" height="6" fill="#6b6b6b"/>
<rect x="888" y="434" width="1" height="2" fill="#6b6b6b"/>
<rect x="886" y="431" width="5" height="3" fill="#14532d"/>
<rect x="887" y="432" width="3" height="1" fill="#4caf50"/>
<rect x="894" y="423" width="1" height="8" fill="#6b6b6b"/>
<rect x="894" y="434" width="1" height="3" fill="#6b6b6b"/>
<rect x="892" y="431" width="5" height="3" fill="#5c1212"/>
<rect x="893" y="432" width="3" height="1" fill="#e05a45"/>
<rect x="901" y="416" width="1" height="7" fill="#6b6b6b"/>
<rect x="901" y="434" width="1" height="6" fill="#6b6b6b"/>
<rect x="899" y="423" width="5" height="11" fill="#14532d"/>
<rect x="900" y="424" width="3" height="9" fill="#4caf50"/>
<rect x="907" y="422" width="1" height="1" fill="#6b6b6b"/>
<rect x="907" y="427" width="1" height="5" fill="#6b6b6b"/>
<rect x="905" y="423" width="5" height="4" fill="#5c1212"/>
<rect x="906" y="424" width="3" height="2" fill="#e05a45"/>
<rect x="913" y="418" width="1" height="8" fill="#6b6b6b"/>
<rect x="911" y="426" width="5" height="2" fill="#5c1212"/>
<rect x="919" y="420" width="1" height="3" fill="#6b6b6b"/>
<rect x="919" y="428" width="1" height="4" fill="#6b6b6b"/>
<rect x="917" y="423" width="5" height="5" fill="#14532d"/>
<rect x="918" y="424" width="3" height="3" fill="#4caf50"/>
<rect x="925" y="408" width="1" height="7" fill="#6b6b6b"/>
<rect x="925" y="424" width="1" height="5" fill="#6b6b6b"/>
<rect x="923" y="415" width="5" height="9" fill="#14532d"/>
<rect x="924" y="416" width="3" height="7" fill="#4caf50"/>
<rect x="931" y="373" width="1" height="5" fill="#6b6b6b"/>
<rect x="931" y="415" width="1" height="4" fill="#6b6b6b"/>
<rect x="929" y="378" width="5" height="37" fill="#14532d"/>
<rect x="930" y="379" width="3" height="35" fill="#4caf50"/>
<rect x="937" y="343" width="1" height="5" fill="#6b6b6b"/>
<rect x="937" y="379" width="1" height="2" fill="#6b6b6b"/>
<rect x="935" y="348" width="5" height="31" fill="#14532d"/>
<rect x="936" y="349" width="3" height="29" fill="#4caf50"/>
<rect x="943" y="323" width="1" height="13" fill="#6b6b6b"/>
<rect x="943" y="350" width="1" height="2" fill="#6b6b6b"/>
<rect x="941" y="336" width="5" height="14" fill="#14532d"/>
<rect x="942" y="337" width="3" height="12" fill="#4caf50"/>
<rect x="949" y="313" width="1" height="4" fill="#6b6b6b"/>
<rect x="949" y="337" width="1" height="3" fill="#6b6b6b"/>
<rect x="947" y="317" width="5" height="20" fill="#14532d"/>
<rect x="948" y="318" width="3" height="18" fill="#4caf50"/>
<rect x="955" y="301" width="1" height="5" fill="#6b6b6b"/>
<rect x="953" y="306" width="5" height="12" fill="#14532d"/>
<rect x="954" y="307" width="3" height="10" fill="#4caf50"/>
<rect x="962" y="275" width="1" height="13" fill="#6b6b6b"/>
<rect x="962" y="307" width="1" height="4" fill="#6b6b6b"/>
<rect x="960" y="288" width="5" height="19" fill="#14532d"/>
<rect x="961" y="289" width="3" height="17" fill="#4caf50"/>
<rect x="968" y="279" width="1" height="6" fill="#6b6b6b"/>
<rect x="968" y="289" width="1" height="3" fill="#6b6b6b"/>
<rect x="966" y="285" width="5" height="4" fill="#14532d"/>
<rect x="967" y="286" width="3" height="2" fill="#4caf50"/>
<rect x="974" y="284" width="1" height="1" fill="#6b6b6b"/>
<rect x="974" y="309" width="1" height="5" fill="#6b6b6b"/>
<rect x="972" y="285" width="5" height="24" fill="#5c1212"/>
<rect x="973" y="286" width="3" height="22" fill="#e05a45"/>
<rect x="980" y="289" width="1" height="3" fill="#6b6b6b"/>
<rect x="980" y="309" width="1" height="1" fill="#6b6b6b"/>
<rect x="978" y="292" width="5" height="17" fill="#14532d"/>
<rect x="979" y="293" width="3" height="15" fill="#4caf50"/>
<rect x="986" y="290" width="1" height="3" fill="#6b6b6b"/>
<rect x="986" y="305" width="1" height="7" fill="#6b6b6b"/>
<rect x="984" y="293" width="5" height="12" fill="#5c1212"/>
<rect x="985" y="294" width="3" height="10" fill="#e05a45"/>
<rect x="992" y="295" width="1" height="10" fill="#6b6b6b"/>
<rect x="992" y="311" width="1" height="2" fill="#6b6b6b"/>
<rect x="990" y="305" width="5" height="6" fill="#5c1212"/>
<rect x="991" y="306" width="3" height="4" fill="#e05a45"/>
<rect x="998" y="303" width="1" height="3" fill="#6b6b6b"/>
<rect x="998" y="311" width="1" height="8" fill="#6b6b6b"/>
<rect x="996" y="306" width="5" height="5" fill="#14532d"/>
<rect x="997" y="307" width="3" height="3" fill="#4caf50"/>
<rect x="1004" y="303" width="1" height="3" fill="#6b6b6b"/>
<rect x="1004" y="309" width="1" height="9" fill="#6b6b6b"/>
<rect x="1002" y="306" width="5" height="3" fill="#5c1212"/>
<rect x="1003" y="307" width="3" height="1" fill="#e05a45"/>
<rect x="1010" y="279" width="1" height="3" fill="#6b6b6b"/>
<rect x="1010" y="309" width="1" height="6" fill="#6b6b6b"/>
<rect x="1008" y="282" width="5" height="27" fill="#14532d"/>
<rect x="1009" y="283" width="3" height="25" fill="#4caf50"/>
<rect x="1016" y="244" width="1" height="37" fill="#6b6b6b"/>
<rect x="1016" y="287" width="1" height="13" fill="#6b6b6b"/>
<rect x="1014" y="281" width="5" height="6" fill="#5c1212"/>
<rect x="1015" y="282" width="3" height="4" fill="#e05a45"/>
<rect x="1023" y="281" width="1" height="5" fill="#6b6b6b"/>
<rect x="1023" y="302" width="1" height="6" fill="#6b6b6b"/>
<rect x="1021" y="286" width="5" height="16" fill="#5c1212"/>
<rect x="1022" y="287" width="3" height="14" fill="#e05a45"/>
<rect x="1029" y="286" width="1" height="9" fill="#6b6b6b"/>
<rect x="1027" y="295" width="5" height="7" fill="#14532d"/>
<rect x="1028" y="296" width="3" height="5" fill="#4caf50"/>
<rect x="1035" y="268" width="1" height="21" fill="#6b6b6b"/>
<rect x="1035" y="296" width="1" height="3" fill="#6b6b6b"/>
<rect x="1033" y="289" width="5" height="7" fill="#14532d"/>
<rect x="1034" y="290" width="3" height="5" fill="#4caf50"/>
<rect x="1041" y="271" width="1" height="3" fill="#6b6b6b"/>
<rect x="1041" y="290" width="1" height="3" fill="#6b6b6b"/>
<rect x="1039" y="274" width="5" height="16" fill="#14532d"/>
<rect x="1040" y="275" width="3" height="14" fill="#4caf50"/>
<rect x="1047" y="236" width="1" height="3" fill="#6b6b6b"/>
<rect x="1047" y="275" width="1" height="5" fill="#6b6b6b"/>
<rect x="1045" y="239" width="5" height="36" fill="#14532d"/>
<rect x="1046" y="240" width="3" height="34" fill="#4caf50"/>
<rect x="1051" y="237" width="5" height="1" fill="#14532d"/>
<rect x="1059" y="207" width="1" height="14" fill="#6b6b6b"/>
<rect x="1059" y="239" width="1" height="3" fill="#6b6b6b"/>
<rect x="1057" y="221" width="5" height="18" fill="#14532d"/>
<rect x="1058" y="222" width="3" height="16" fill="#4caf50"/>
<rect x="1065" y="193" width="1" height="3" fill="#6b6b6b"/>
<rect x="1065" y="222" width="1" height="3" fill="#6b6b6b"/>
<rect x="1063" y="196" width="5" height="26" fill="#14532d"/>
<rect x="1064" y="197" width="3" height="24" fill="#4caf50"/>
<rect x="1071" y="174" width="1" height="2" fill="#6b6b6b"/>
<rect x="1071" y="194" width="1" height="13" fill="#6b6b6b"/>
<rect x="1069" y="176" width="5" height="18" fill="#14532d"/>
<rect x="1070" y="177" width="3" height="16" fill="#4caf50"/>
<rect x="1078" y="170" width="1" height="5" fill="#6b6b6b"/>
<rect x="1078" y="186" width="1" height="8" fill="#6b6b6b"/>
<rect x="1076" y="175" width="5" height="11" fill="#5c1212"/>
<rect x="1077" y="176" width="3" height="9" fill="#e05a45"/>
<rect x="1084" y="147" width="1" height="1" fill="#6b6b6b"/>
<rect x="1084" y="185" width="1" height="20" fill="#6b6b6b"/>
<rect x="1082" y="148" width="5" height="37" fill="#14532d"/>
<rect x="1083" y="149" width="3" height="35" fill="#4caf50"/>
<rect x="1090" y="125" width="1" height="14" fill="#6b6b6b"/>
<rect x="1090" y="149" width="1" height="23" fill="#6b6b6b"/>
<rect x="1088" y="139" width="5" height="10" fill="#14532d"/>
<rect x="1089" y="140" width="3" height="8" fill="#4caf50"/>
<rect x="1096" y="114" width="1" height="12" fill="#6b6b6b"/>
<rect x="1096" y="140" width="1" height="1" fill="#6b6b6b"/>
<rect x="1094" y="126" width="5" height="14" fill="#14532d"/>
<rect x="1095" y="127" width="3" height="12" fill="#4caf50"/>
<rect x="1102" y="119" width="1" height="7" fill="#6b6b6b"/>
<rect x="1102" y="146" width="1" height="11" fill="#6b6b6b"/>
<rect x="1100" y="126" width="5" height="20" fill="#5c1212"/>
<rect x="1101" y="127" width="3" height="18" fill="#e05a45"/>
<rect x="1108" y="103" width="1" height="5" fill="#6b6b6b"/>
<rect x="1108" y="146" width="1" height="5" fill="#6b6b6b"/>
<rect x="1106" y="108" width="5" height="38" fill="#14532d"/>
<rect x="1107" y="109" width="3" height="36" fill="#4caf50"/>
<rect x="1114" y="52" width="1" height="56" fill="#6b6b6b"/>
<rect x="1114" y="136" width="1" height="8" fill="#6b6b6b"/>
<rect x="1112" y="108" width="5" height="28" fill="#5c1212"/>
<rect x="1113" y="109" width="3" height="26" fill="#e05a45"/>
<rect x="1120" y="94" width="1" height="4" fill="#6b6b6b"/>
<rect x="1120" y="136" width="1" height="16" fill="#6b6b6b"/>
<rect x="1118" y="98" width="5" height="38" fill="#14532d"/>
<rect x="1119" y="99" width="3" height="36" fill="#4caf50"/>
<rect x="1126" y="84" width="1" height="14" fill="#6b6b6b"/>
<rect x="1126" y="99" width="1" height="17" fill="#6b6b6b"/>
<rect x="1124" y="98" width="5" height="1" fill="#14532d"/>
<rect x="1132" y="86" width="1" height="13" fill="#6b6b6b"/>
<rect x="1132" y="120" width="1" height="4" fill="#6b6b6b"/>
<rect x="1130" y="99" width="5" height="21" fill="#5c1212"/>
<rect x="1131" y="100" width="3" height="19" fill="#e05a45"/>
<rect x="1139" y="89" width="1" height="13" fill="#6b6b6b"/>
<rect x="1137" y="102" width="5" height="17" fill="#14532d"/>
<rect x="1138" y="103" width="3" height="15" fill="#4caf50"/>
<rect x="1145" y="65" width="1" height="25" fill="#6b6b6b"/>
<rect x="1145" y="103" width="1" height="4" fill="#6b6b6b"/>
<rect x="1143" y="90" width="5" height="13" fill="#14532d"/>
<rect x="1144" y="91" width="3" height="11" fill="#4caf50"/>
<rect x="1149" y="89" width="5" height="63" fill="#5c1212"/>
<rect x="1150" y="90" width="3" height="61" fill="#e05a45"/>
<rect x="1157" y="143" width="1" height="6" fill="#6b6b6b"/>
<rect x="1157" y="156" width="1" height="27" fill="#6b6b6b"/>
<rect x="1155" y="149" width="5" height="7" fill="#5c1212"/>
<rect x="1156" y="150" width="3" height="5" fill="#e05a45"/>
<rect x="1163" y="140" width="1" height="14" fill="#6b6b6b"/>
<rect x="1163" y="162" width="1" height="2" fill="#6b6b6b"/>
<rect x="1161" y="154" width="5" height="8" fill="#5c1212"/>
<rect x="1162" y="155" width="3" height="6" fill="#e05a45"/>
<rect x="1169" y="133" width="1" height="13" fill="#6b6b6b"/>
<rect x="1169" y="162" width="1" height="8" fill="#6b6b6b"/>
<rect x="1167" y="146" width="5" height="16" fill="#14532d"/>
<rect x="1168" y="147" width="3" height="14" fill="#4caf50"/>
<rect x="1175" y="126" width="1" height="14" fill="#6b6b6b"/>
<rect x="1175" y="146" width="1" height="5" fill="#6b6b6b"/>
<rect x="1173" y="140" width="5" height="6" fill="#14532d"/>
<rect x="1174" y="141" width="3" height="4" fill="#4caf50"/>
<rect x="1181" y="132" width="1" height="8" fill="#6b6b6b"/>
<rect x="1181" y="143" width="1" height="13" fill="#6b6b6b"/>
<rect x="1179" y="140" width="5" height="3" fill="#5c1212"/>
<rect x="1180" y="141" width="3" height="1" fill="#e05a45"/>
<rect x="1187" y="141" width="1" height="1" fill="#6b6b6b"/>
<rect x="1185" y="142" width="5" height="48" fill="#5c1212"/>
<rect x="1186" y="143" width="3" height="46" fill="#e05a45"/>
<rect x="1193" y="149" width="1" height="8" fill="#6b6b6b"/>
<rect x="1193" y="189" width="1" height="3" fill="#6b6b6b"/>
<rect x="1191" y="157" width="5" height="32" fill="#14532d"/>
<rect x="1192" y="158" width="3" height="30" fill="#4caf50"/>
<rect x="1200" y="151" width="1" height="6" fill="#6b6b6b"/>
<rect x="1200" y="174" width="1" height="15" fill="#6b6b6b"/>
<rect x="1198" y="157" width="5" height="17" fill="#5c1212"/>
<rect x="1199" y="158" width="3" height="15" fill="#e05a45"/>
<rect x="1206" y="156" width="1" height="16" fill="#6b6b6b"/>
<rect x="1206" y="174" width="1" height="22" fill="#6b6b6b"/>
<rect x="1204" y="172" width="5" height="2" fill="#5c1212"/>
<rect x="1212" y="145" width="1" height="6" fill="#6b6b6b"/>
<rect x="1212" y="174" width="1" height="9" fill="#6b6b6b"/>
<rect x="1210" y="151" width="5" height="23" fill="#14532d"/>
<rect x="1211" y="152" width="3" height="21" fill="#4caf50"/>
<rect x="1218" y="147" width="1" height="4" fill="#6b6b6b"/>
<rect x="1218" y="163" width="1" height="3" fill="#6b6b6b"/>
<rect x="1216" y="151" width="5" height="12" fill="#5c1212"/>
<rect x="1217" y="152" width="3" height="10" fill="#e05a45"/>
<rect x="1224" y="155" width="1" height="7" fill="#6b6b6b"/>
<rect x="1224" y="168" width="1" height="4" fill="#6b6b6b"/>
<rect x="1222" y="162" width="5" height="6" fill="#5c1212"/>
<rect x="1223" y="163" width="3" height="4" fill="#e05a45"/>
<rect x="1230" y="131" width="1" height="2" fill="#6b6b6b"/>
<rect x="1230" y="168" width="1" height="1" fill="#6b6b6b"/>
<rect x="1228" y="133" width="5" height="35" fill="#14532d"/>
<rect x="1229" y="134" width="3" height="33" fill="#4caf50"/>
<rect x="1236" y="102" width="1" height="17" fill="#6b6b6b"/>
<rect x="1236" y="133" width="1" height="2" fill="#6b6b6b"/>
<rect x="1234" y="119" width="5" height="14" fill="#14532d"/>
<rect x="1235" y="120" width="3" height="12" fill="#4caf50"/>
<rect x="1242" y="115" width="1" height="4" fill="#6b6b6b"/>
<rect x="1242" y="142" width="1" height="3" fill="#6b6b6b"/>
<rect x="1240" y="119" width="5" height="23" fill="#5c1212"/>
<rect x="1241" y="120" width="3" height="21" fill="#e05a45"/>
<rect x="1248" y="120" width="1" height="1" fill="#6b6b6b"/>
<rect x="1246" y="121" width="5" height="22" fill="#14532d"/>
<rect x="1247" y="122" width="3" height="20" fill="#4caf50"/>
<rect x="1255" y="91" width="1" height="4" fill="#6b6b6b"/>
<rect x="1255" y="123" width="1" height="4" fill="#6b6b6b"/>
<rect x="1253" y="95" width="5" height="28" fill="#14532d"/>
<rect x="1254" y="96" width="3" height="26" fill="#4caf50"/>
<rect x="1261" y="84" width="1" height="11" fill="#6b6b6b"/>
<rect x="1261" y="105" width="1" height="4" fill="#6b6b6b"/>
<rect x="1259" y="95" width="5" height="10" fill="#5c1212"/>
<rect x="1260" y="96" width="3" height="8" fill="#e05a45"/>
<rect x="1267" y="61" width="1" height="7" fill="#6b6b6b"/>
<rect x="1267" y="105" width="1" height="1" fill="#6b6b6b"/>
<rect x="1265" y="68" width="5" height="37" fill="#14532d"/>
<rect x="1266" y="69" width="3" height="35" fill="#4caf50"/>
<rect x="1273" y="35" width="1" height="24" fill="#6b6b6b"/>
<rect x="1273" y="70" width="1" height="5" fill="#6b6b6b"/>
<rect x="1271" y="59" width="5" height="11" fill="#14532d"/>
<rect x="1272" y="60" width="3" height="9" fill="#4caf50"/>
<rect x="1279" y="50" width="1" height="7" fill="#6b6b6b"/>
<rect x="1279" y="64" width="1" height="12" fill="#6b6b6b"/>
<rect x="1277" y="57" width="5" height="7" fill="#5c1212"/>
<rect x="1278" y="58" width="3" height="5" fill="#e05a45"/>
<rect x="1285" y="57" width="1" height="6" fill="#6b6b6b"/>
<rect x="1285" y="103" width="1" height="2" fill="#6b6b6b"/>
<rect x="1283" y="63" width="5" height="40" fill="#5c1212"/>
<rect x="1284" y="64" width="3" height="38" fill="#e05a45"/>
<rect x="1291" y="97" width="1" height="4" fill="#6b6b6b"/>
<rect x="1291" y="149" width="1" height="1" fill="#6b6b6b"/>
<rect x="1289" y="101" width="5" height="48" fill="#5c1212"/>
<rect x="1290" y="102" width="3" height="46" fill="#e05a45"/>
<rect x="1297" y="131" width="1" height="13" fill="#6b6b6b"/>
<rect x="1297" y="149" width="1" height="2" fill="#6b6b6b"/>
<rect x="1295" y="144" width="5" height="5" fill="#14532d"/>
<rect x="1296" y="145" width="3" height="3" fill="#4caf50"/>
<rect x="1303" y="121" width="1" height="7" fill="#6b6b6b"/>
<rect x="1301" y="128" width="5" height="17" fill="#14532d"/>
<rect x="1302" y="129" width="3" height="15" fill="#4caf50"/>
<rect x="1309" y="115" width="1" height="4" fill="#6b6b6b"/>
<rect x="1309" y="128" width="1" height="10" fill="#6b6b6b"/>
<rect x="1307" y="119" width="5" height="9" fill="#14532d"/>
<rect x="1308" y="120" width="3" height="7" fill="#4caf50"/>
<rect x="1316" y="117" width="1" height="2" fill="#6b6b6b"/>
<rect x="1316" y="141" width="1" height="2" fill="#6b6b6b"/>
<rect x="1314" y="119" width="5" height="22" fill="#5c1212"/>
<rect x="1315" y="120" width="3" height="20" fill="#e05a45"/>
<rect x="1322" y="127" width="1" height="7" fill="#6b6b6b"/>
<rect x="1322" y="141" width="1" height="13" fill="#6b6b6b"/>
<rect x="1320" y="134" width="5" height="7" fill="#14532d"/>
<rect x="1321" y="135" width="3" height="5" fill="#4caf50"/>
<rect x="1328" y="119" width="1" height="15" fill="#6b6b6b"/>
<rect x="1328" y="151" width="1" height="5" fill="#6b6b6b"/>
<rect x="1326" y="134" width="5" height="17" fill="#5c1212"/>
<rect x="1327" y="135" width="3" height="15" fill="#e05a45"/>
<rect x="1334" y="124" width="1" height="4" fill="#6b6b6b"/>
<rect x="1334" y="151" width="1" height="10" fill="#6b6b6b"/>
<rect x="1332" y="128" width="5" height="23" fill="#14532d"/>
<rect x="1333" y="129" width="3" height="21" fill="#4caf50"/>
<rect x="1340" y="126" width="1" height="2" fill="#6b6b6b"/>
<rect x="1340" y="152" width="1" height="9" fill="#6b6b6b"/>
<rect x="1338" y="128" width="5" height="24" fill="#5c1212"/>
<rect x="1339" y="129" width="3" height="22" fill="#e05a45"/>
<rect x="1346" y="122" width="1" height="1" fill="#6b6b6b"/>
<rect x="1344" y="123" width="5" height="28" fill="#14532d"/>
<rect x="1345" y="124" width="3" height="26" fill="#4caf50"/>
<rect x="1352" y="102" width="1" height="3" fill="#6b6b6b"/>
<rect x="1352" y="124" width="1" height="1" fill="#6b6b6b"/>
<rect x="1350" y="105" width="5" height="19" fill="#14532d"/>
<rect x="1351" y="106" width="3" height="17" fill="#4caf50"/>
<rect x="1358" y="93" width="1" height="11" fill="#6b6b6b"/>
<rect x="1358" y="182" width="1" height="5" fill="#6b6b6b"/>
<rect x="1356" y="104" width="5" height="78" fill="#5c1212"/>
<rect x="1357" y="105" width="3" height="76" fill="#e05a45"/>
<rect x="1364" y="162" width="1" height="3" fill="#6b6b6b"/>
<rect x="1364" y="182" width="1" height="5" fill="#6b6b6b"/>
<rect x="1362" y="165" width="5" height="17" fill="#14532d"/>
<rect x="1363" y="166" width="3" height="15" fill="#4caf50"/>
<rect x="1370" y="157" width="1" height="3" fill="#6b6b6b"/>
<rect x="1370" y="166" width="1" height="11" fill="#6b6b6b"/>
<rect x="1368" y="160" width="5" height="6" fill="#14532d"/>
<rect x="1369" y="161" width="3" height="4" fill="#4caf50"/>
<rect x="1377" y="136" width="1" height="16" fill="#6b6b6b"/>
<rect x="1377" y="161" width="1" height="4" fill="#6b6b6b"/>
<rect x="1375" y="152" width="5" height="9" fill="#14532d"/>
<rect x="1376" y="153" width="3" height="7" fill="#4caf50"/>
<rect x="1383" y="150" width="1" height="2" fill="#6b6b6b"/>
<rect x="1383" y="175" width="1" height="4" fill="#6b6b6b"/>
<rect x="1381" y="152" width="5" height="23" fill="#5c1212"/>
<rect x="1382" y="153" width="3" height="21" fill="#e05a45"/>
<rect x="1389" y="141" width="1" height="4" fill="#6b6b6b"/>
<rect x="1389" y="173" width="1" height="1" fill="#6b6b6b"/>
<rect x="1387" y="145" width="5" height="28" fill="#14532d"/>
<rect x="1388" y="146" width="3" height="26" fill="#4caf50"/>
<rect x="1395" y="157" width="1" height="4" fill="#6b6b6b"/>
<rect x="1393" y="145" width="5" height="12" fill="#5c1212"/>
<rect x="1394" y="146" width="3" height="10" fill="#e05a45"/>
</g>
<line x1="4" y1="156.5" x2="1459" y2="156.5" stroke="#e0503a" stroke-width="1" stroke-dasharray="1 2" shape-rendering="crispEdges"/>
<g fill="none" stroke-linejoin="round" stroke-linecap="round" clip-path="url(#cpAll)">
<path d="M4 692.6 L9.2 693.9 L16.5 693.9 L29.3 695.2 L40.3 695.8 L49.5 696.7 L60.5 697.2 L69.7 697.6 L78.8 698.5 L88 698.9 L95.3 698.1 L102.7 698.9 L111.8 699.1 L119.2 698.3 L126.5 699.1 L132 699.8 L137.5 699.4 L146.7 700.7 L155.8 701.6 L165 702.7 L172.4 703.3 L179.7 702.9 L187 703.6 L192.5 704.2 L199.9 703.5 L205.4 704 L210.9 704.7 L216.4 704.2 L221.9 703.6 L227.4 704 L234.7 704.6 L240.2 704 L245.7 702.2 L253 700.7 L260.4 698.1 L267.7 697.2 L277.3 698 L282.8 698.1 L290.2 696.7 L295.7 695.2 L303 696.1 L314.9 696.3 L321.3 690.6 L326.8 690.3 L333.3 690.8 L339.7 688.6 L347 687.9 L356.2 688.1 L365.3 687.5 L374.5 687.9 L381.8 687 L388.3 687.9 L394.7 687.5 L400.2 687.5 L407.5 688.6 L418.5 689.5 L429.5 689.5 L436.9 689.7 L444.2 689.3 L449.7 689.3 L455.2 688.4 L460.7 688.4 L467.1 687.9 L471.7 688.4 L479 689 L486.4 688.2 L491.9 688.6 L497.4 690.3 L503.8 691.4 L510.2 691.5 L515.7 690.6 L522.1 691.2 L528.5 691.5 L534 689.3 L539.9 679.8 L546.4 679.6 L552.8 680.9 L559.3 681.5 L564.8 680.5 L571.2 680.4 L577.6 681.3 L583.1 679.1 L588.6 679.4 L595 679.6 L601.4 680.7 L607.8 681.3 L613.3 682.2 L619.8 683.3 L626.2 683.7 L631.7 685.9 L638.1 686.8 L644.5 687 L650 687.1 L655.5 687.9 L661.9 690.3 L668.3 690.1 L674.8 688.6 L681.2 689.5 L688.5 687.7 L693.1 687.5 L699.5 688.2 L705 688.4 L711.4 687.5 L716.9 686.6 L723.4 687.7 L729.8 687 L735.3 686.4 L741.7 687 L748.1 687.7 L754.5 688.4 L760 688.8 L766.4 688.6 L771.9 689.5 L777.4 690.4 L783.9 690.8 L790.3 691.2 L796.7 690.6 L803.1 689.2 L809.5 688.4 L815.5 688.1 L821 688.8 L827.4 689.7 L833.8 690.3 L840.3 690.8 L845.8 691.4 L851.8 689 L857.7 690.1 L864.1 690.4 L869.6 690.6 L876 691.9 L882.4 692.5 L887.9 693.4 L894.3 693.9 L900.8 693.4 L907.2 694.5 L913.6 695.6 L919.1 696.1 L925.1 695.4 L931 692.5 L936.5 689.9 L942.9 688.8 L949.3 688.2 L955.8 688.2 L961.8 686.8 L967.7 687.7 L975 686.8 L980.5 686.8 L986 686.8 L992.4 687.7 L998.9 688.4 L1004.4 689 L1009.9 687.1 L1015.4 684.2 L1021.8 683.8 L1028.2 684.6 L1034.6 684.2 L1041 684.2 L1046.5 682.6 L1052.9 684.6 L1059.4 683.7 L1065.8 683.1 L1071.3 682.4 L1077.7 682.4 L1084.6 679.3 L1089.2 678.2 L1095.6 678.3 L1102 677.6 L1107.5 676.1 L1113.9 671.7 L1119.4 670.5 L1125.8 670.5 L1133.2 670.6 L1139.6 671 L1145.1 670.3 L1150.6 668.8 L1157 668.6 L1163.4 669.7 L1169.8 670.1 L1175.3 671 L1181.8 671.6 L1188.2 670.8 L1194.6 670.5 L1201 670.3 L1208.3 670.1 L1212.9 670.1 L1218.4 671.4 L1223.9 672.5 L1230.3 672.3 L1236.8 672.5 L1243.2 673.2 L1248.7 673.6 L1255.1 673.4 L1261.5 673.9 L1267 673.4 L1272.5 672.8 L1278.9 673.4 L1284.4 672.7 L1290.9 671.4 L1296.4 672.3 L1302.8 673 L1309.2 673.9 L1315.6 674.5 L1322 675 L1328.4 674.7 L1340.3 674.4 L1346.8 674.6 L1351.3 675.4 L1358.1 670.7 L1363.5 671.8 L1370 672.8 L1377.7 673.5 L1384.2 673.7 L1389.4 673.7 L1394.9 674.9" stroke="#c62828" stroke-width="1.1"/>
<path d="M4 768.5 L9.2 773.7 L16.5 771.5" stroke="#2962ff" stroke-width="1.15"/>
<path d="M46.8 778.3 L55 778.3 L64.2 779.2 L73.3 777.9 L80.7 775.5 L88.9 770.9 L95.3 764.5 L100.8 761.2 L107.3 762.1 L111.8 759 L117.3 752.6 L124.7 740.9 L132 741.6 L139.3 742.1 L143.9 743.4 L150.3 750.8 L155.8 756.3 L161.3 756.8 L173.3 755.3 L180.6 761.2 L186.1 764.9 L192.9 767.6 L198.9 759 L205.4 752.6 L216.9 749.8 L222.8 763.6 L228.6 761.4 L235.2 766.3 L240.2 775.5 L246.6 793.8 L253.9 797.1 L259.8 792.4 L265.9 793.3 L270 789.8 L278.3 781.6 L290.2 774.6 L296.2 766.9 L302.1 764.5 L308.5 761.4 L314.9 760.3 L321.3 750.8 L326.8 748.6 L333.3 747.6 L338.8 742 L345.2 738.5 L350.7 737.2 L357.1 741.2 L363.5 744.2 L374.5 745.4 L381.8 744.9 L388.3 746.2 L394.7 748.6 L400.2 750.4 L405.7 750.4 L412.1 749.5 L418.5 753 L424.9 757.2 L431.3 762.1 L436.9 764.5 L443.3 771.8 L448.8 775 L455.2 768.2 L460.7 765.8 L467.1 758.5 L473 752.6 L479 757.5 L484.9 747.1 L490.9 748 L497.4 749.3 L503.8 746.2 L510.2 740.1 L516.1 732.4 L522.1 732.2 L528.2 738.5 L534 735.2 L539.9 737.6 L546.8 751.1 L558.9 751.3 L564.8 757.2 L571.2 766 L576.7 768.4 L583.1 759.9 L589.1 750.6 L595 754.8 L601.1 756.3 L607.8 752.2 L613.9 753.5 L619.8 750.6 L625.8 743.4 L632.2 746.2 L638.1 742.5 L644.1 739.4 L650 742.5 L654.6 745.4 L661.9 747.5 L668.3 747.5 L674.8 756.1 L680.3 757.4 L687.2 757.7 L693.1 766 L699.1 767.4 L705 771.3 L711.1 770.2 L716.9 759.9 L723.4 756.4 L729.8 769.1 L736.2 782.1 L742.2 777 L748.1 768.9 L753.6 771.1 L760 767.3 L766.4 771.1 L771.9 771.5 L778 770 L784.8 762.7 L790.8 753 L797.2 748 L803.1 740.9 L808.6 748 L815 763.2 L821 758.1 L827.1 754.4 L832.9 759.9 L839.3 763.2 L846.1 770.6 L851.8 782.5 L858 792.6 L863.7 781 L869.6 772.8 L876 765.1 L882.1 760.1 L887.9 757.9 L894.3 757.5 L900.8 754.6 L907.2 754.4 L913.6 753 L919.5 752.6 L925.1 744.3 L931 723.3 L937.1 713.5 L943.3 719 L949.3 727.5 L955.4 732.4 L961.8 735 L968 738.8 L974.1 744 L980.5 745.3 L986 747.8 L992.4 749.5 L998.9 751.1 L1004 751.5 L1009.9 749.7 L1016.3 747.6 L1022.7 751.5 L1028.7 751.5 L1035 749.5 L1041 747.5 L1047.1 735.2 L1052.9 729.3 L1059.4 727.8 L1064.9 728 L1071.3 730.2 L1077.7 735.9 L1085.5 737.2 L1091 737.4 L1096.5 738.1 L1102 742.5 L1107.5 742.1 L1113 742.5 L1119.4 744.9 L1125.8 744.3 L1132.3 746.9 L1138.7 747.3 L1145.1 745.6 L1150.6 752.6 L1157 759.4 L1163.4 759.9 L1168.9 759.9 L1175 758.1 L1180.8 760.8 L1187.3 773.1 L1193.1 771.3 L1199.2 773.7 L1205.6 775.5 L1212 768.5 L1217.5 767.3 L1223.9 768.7 L1230 760.5 L1235.8 750.2 L1241.7 755.5 L1248.1 751.7 L1254.2 742 L1261 739.8 L1267 731.1 L1272.9 729.7 L1278.4 736.8 L1285.2 746.9 L1291 759.6 L1297.8 762.1 L1308.7 758.4 L1318.8 762.1 L1327.2 765.8 L1334 765.1 L1339.9 768.8 L1346.6 763.8 L1351.6 756.2 L1357.5 772.2 L1363.9 777.7 L1371 773 L1376.9 768.8 L1382.8 772.5 L1388.7 768.8 L1394.6 767.6" stroke="#2962ff" stroke-width="1.15"/>
</g>
<g shape-rendering="crispEdges">
<rect x="1459" y="2" width="1" height="829" fill="#5a5a5a"/>
<rect x="4" y="803" width="1519" height="1" fill="#5a5a5a"/>
</g>
<text x="1467.5" y="49.1" font-size="12" fill="#555555" textLength="46" lengthAdjust="spacingAndGlyphs">2,440.00</text>
<text x="1467.5" y="85.3" font-size="12" fill="#555555" textLength="46" lengthAdjust="spacingAndGlyphs">2,400.00</text>
<text x="1467.5" y="122.8" font-size="12" fill="#555555" textLength="46" lengthAdjust="spacingAndGlyphs">2,360.00</text>
<text x="1467.5" y="160.3" font-size="12" fill="#555555" textLength="46" lengthAdjust="spacingAndGlyphs">2,320.00</text>
<text x="1467.5" y="197.8" font-size="12" fill="#555555" textLength="46" lengthAdjust="spacingAndGlyphs">2,280.00</text>
<text x="1467.5" y="235.3" font-size="12" fill="#555555" textLength="46" lengthAdjust="spacingAndGlyphs">2,240.00</text>
<text x="1467.5" y="272.6" font-size="12" fill="#555555" textLength="46" lengthAdjust="spacingAndGlyphs">2,200.00</text>
<text x="1467.5" y="310" font-size="12" fill="#555555" textLength="46" lengthAdjust="spacingAndGlyphs">2,160.00</text>
<text x="1467.5" y="347.3" font-size="12" fill="#555555" textLength="46" lengthAdjust="spacingAndGlyphs">2,120.00</text>
<text x="1467.5" y="384.8" font-size="12" fill="#555555" textLength="46" lengthAdjust="spacingAndGlyphs">2,080.00</text>
<text x="1467.5" y="422.3" font-size="12" fill="#555555" textLength="46" lengthAdjust="spacingAndGlyphs">2,040.00</text>
<text x="1467.5" y="459.6" font-size="12" fill="#555555" textLength="46" lengthAdjust="spacingAndGlyphs">2,000.00</text>
<text x="1467.5" y="497" font-size="12" fill="#555555" textLength="46" lengthAdjust="spacingAndGlyphs">1,960.00</text>
<text x="1467.5" y="534.3" font-size="12" fill="#555555" textLength="46" lengthAdjust="spacingAndGlyphs">1,920.00</text>
<text x="1467.5" y="571.7" font-size="12" fill="#555555" textLength="46" lengthAdjust="spacingAndGlyphs">1,880.00</text>
<text x="1467.5" y="609.1" font-size="12" fill="#555555" textLength="46" lengthAdjust="spacingAndGlyphs">1,840.00</text>
<text x="1467.5" y="646.5" font-size="12" fill="#555555" textLength="46" lengthAdjust="spacingAndGlyphs">1,800.00</text>
<text x="1467.5" y="690" font-size="12" fill="#555555" textLength="29.3" lengthAdjust="spacingAndGlyphs">25.00</text>
<text x="1467.5" y="730" font-size="12" fill="#555555" textLength="35.3" lengthAdjust="spacingAndGlyphs">250.00</text>
<text x="1467.5" y="764" font-size="12" fill="#555555" textLength="23" lengthAdjust="spacingAndGlyphs">0.00</text>
<text x="1466.4" y="797.8" font-size="12" fill="#555555" textLength="42" lengthAdjust="spacingAndGlyphs">−250.00</text>
<path d="M1459 27 h57.5 a2.5 2.5 0 0 1 2.5 2.5 v12 a2.5 2.5 0 0 1 -2.5 2.5 h-57.5 z" fill="#000"/>
<text x="1467" y="38.9" font-size="12" font-weight="bold" fill="#fff" textLength="47" lengthAdjust="spacingAndGlyphs">2,450.50</text>
<path d="M1459 188 h57.5 a2.5 2.5 0 0 1 2.5 2.5 v12 a2.5 2.5 0 0 1 -2.5 2.5 h-57.5 z" fill="#000"/>
<text x="1467" y="199.9" font-size="12" font-weight="bold" fill="#fff" textLength="47" lengthAdjust="spacingAndGlyphs">2,277.73</text>
<path d="M1459 267 h57.5 a2.5 2.5 0 0 1 2.5 2.5 v12 a2.5 2.5 0 0 1 -2.5 2.5 h-57.5 z" fill="#000"/>
<text x="1467" y="278.9" font-size="12" font-weight="bold" fill="#fff" textLength="47" lengthAdjust="spacingAndGlyphs">2,193.44</text>
<path d="M1459 310 h57.5 a2.5 2.5 0 0 1 2.5 2.5 v12 a2.5 2.5 0 0 1 -2.5 2.5 h-57.5 z" fill="#000"/>
<text x="1467" y="321.9" font-size="12" font-weight="bold" fill="#fff" textLength="47" lengthAdjust="spacingAndGlyphs">2,147.28</text>
<path d="M1459 458 h57.5 a2.5 2.5 0 0 1 2.5 2.5 v12 a2.5 2.5 0 0 1 -2.5 2.5 h-57.5 z" fill="#000"/>
<text x="1467" y="469.9" font-size="12" font-weight="bold" fill="#fff" textLength="47" lengthAdjust="spacingAndGlyphs">1,987.90</text>
<path d="M1459 473 h57.5 a2.5 2.5 0 0 1 2.5 2.5 v12 a2.5 2.5 0 0 1 -2.5 2.5 h-57.5 z" fill="#000"/>
<text x="1467" y="484.9" font-size="12" font-weight="bold" fill="#fff" textLength="47" lengthAdjust="spacingAndGlyphs">1,972.75</text>
<path d="M1459 514 h57.5 a2.5 2.5 0 0 1 2.5 2.5 v12 a2.5 2.5 0 0 1 -2.5 2.5 h-57.5 z" fill="#000"/>
<text x="1467" y="525.9" font-size="12" font-weight="bold" fill="#fff" textLength="47" lengthAdjust="spacingAndGlyphs">1,928.04</text>
<path d="M1459 624 h57.5 a2.5 2.5 0 0 1 2.5 2.5 v12 a2.5 2.5 0 0 1 -2.5 2.5 h-57.5 z" fill="#000"/>
<text x="1467" y="635.9" font-size="12" font-weight="bold" fill="#fff" textLength="47" lengthAdjust="spacingAndGlyphs">1,810.48</text>
<rect x="1460" y="2" width="63" height="34" fill="#fff"/>
<rect x="1459" y="2" width="1" height="34" fill="#5a5a5a" shape-rendering="crispEdges"/>
<rect x="1463.5" y="6.5" width="55" height="25" rx="4" ry="4" fill="#fff" stroke="#dfe2ee" stroke-width="1"/>
<text x="1467.5" y="23.2" font-size="12.5" fill="#131722" textLength="20" lengthAdjust="spacingAndGlyphs">USD</text>
<path d="M1508.8 17.6 l2.6 2.6 l2.6 -2.6" fill="none" stroke="#131722" stroke-width="1.3"/>
<g font-family="'Liberation Sans',sans-serif" font-weight="bold" font-style="italic" font-size="32.5" fill="#8b97d6">
<text x="1292.6" y="828.9" textLength="20.4" lengthAdjust="spacingAndGlyphs">z</text>
<text x="1318.7" y="828.9" textLength="19.5" lengthAdjust="spacingAndGlyphs">z</text>
<text x="1348.2" y="828.9" textLength="16.2" lengthAdjust="spacingAndGlyphs">r</text>
<text x="1369.2" y="828.9" textLength="12.8" lengthAdjust="spacingAndGlyphs">t</text>
<text x="1392.0" y="828.9" textLength="19.5" lengthAdjust="spacingAndGlyphs">0</text>
<text x="1426.5" y="828.9" textLength="12.8" lengthAdjust="spacingAndGlyphs">1</text>
<text x="1449.2" y="828.9" textLength="9.4" lengthAdjust="spacingAndGlyphs">.</text>
<text x="1469.4" y="828.9" textLength="18.7" lengthAdjust="spacingAndGlyphs">c</text>
<text x="1495.5" y="828.9" textLength="21.2" lengthAdjust="spacingAndGlyphs">n</text>
</g>
<g font-family="'Liberation Sans',sans-serif" font-weight="bold" font-style="italic" font-size="32.5" fill="#8ecbff">
<text x="1291.2" y="827.6" textLength="20.4" lengthAdjust="spacingAndGlyphs">z</text>
<text x="1317.3" y="827.6" textLength="19.5" lengthAdjust="spacingAndGlyphs">z</text>
<text x="1346.8" y="827.6" textLength="16.2" lengthAdjust="spacingAndGlyphs">r</text>
<text x="1367.8" y="827.6" textLength="12.8" lengthAdjust="spacingAndGlyphs">t</text>
<text x="1390.6" y="827.6" textLength="19.5" lengthAdjust="spacingAndGlyphs">0</text>
<text x="1425.1" y="827.6" textLength="12.8" lengthAdjust="spacingAndGlyphs">1</text>
<text x="1447.8" y="827.6" textLength="9.4" lengthAdjust="spacingAndGlyphs">.</text>
<text x="1468.0" y="827.6" textLength="18.7" lengthAdjust="spacingAndGlyphs">c</text>
<text x="1494.1" y="827.6" textLength="21.2" lengthAdjust="spacingAndGlyphs">n</text>
</g>
<text x="137.5" y="821.3" font-size="12" text-anchor="middle" fill="#555555">Sep</text>
<text x="265.7" y="821.3" font-size="12" text-anchor="middle" fill="#555555">Oct</text>
<text x="400.3" y="821.3" font-size="12" text-anchor="middle" fill="#555555">Nov</text>
<text x="533.7" y="821.3" font-size="12" text-anchor="middle" fill="#555555">Dec</text>
<text x="662" y="821.3" font-size="12" text-anchor="middle" fill="#444" font-weight="bold">2024</text>
<text x="803" y="821.3" font-size="12" text-anchor="middle" fill="#555555">Feb</text>
<text x="931" y="821.3" font-size="12" text-anchor="middle" fill="#555555">Mar</text>
<text x="1059.5" y="821.3" font-size="12" text-anchor="middle" fill="#555555">Apr</text>
<text x="1193.5" y="821.3" font-size="12" text-anchor="middle" fill="#555555">May</text>
<text x="1334" y="821.3" font-size="12" text-anchor="middle" fill="#555555">Jun</text>
<text x="1426" y="821.3" font-size="12" text-anchor="middle" fill="#555555">24</text>
<path d="M1498.7 817.4 L1495.2 823.5 L1488.2 823.5 L1484.7 817.4 L1488.2 811.3 L1495.2 811.3 Z" fill="#fff" stroke="#131722" stroke-width="1.2"/>
<circle cx="1491.7" cy="817.4" r="2" fill="#fff" stroke="#131722" stroke-width="1.1"/>
<rect x="8" y="8" width="678" height="22" fill="#fff" fill-opacity="0.8"/>
<rect x="8" y="32" width="159" height="28" fill="#fff" fill-opacity="0.5"/>
<rect x="8" y="66" width="576" height="18" fill="#fff" fill-opacity="0.93"/>
<rect x="8" y="678" width="117" height="17" fill="#fff" fill-opacity="0.85"/>
<rect x="8" y="720" width="158" height="17" fill="#fff" fill-opacity="0.85"/>
<circle cx="22" cy="18" r="9" fill="#d69e0c"/>
<path d="M20.5 14 h3.6 l1.2 2.9 h-6 z M17.3 18 h3.6 l1.1 2.9 h-6.7 z M23.4 18 h3.6 l1.8 2.9 h-6.8 z" fill="#fff"/>
<text x="35" y="24" font-size="16" fill="#444" textLength="245" lengthAdjust="spacingAndGlyphs">CFDs on Gold (US$ / OZ) · 1D · TVC</text>
<circle cx="303.5" cy="18.5" r="9" fill="#daf0ec"/>
<circle cx="303.5" cy="18.5" r="4" fill="#089981"/>
<text x="329.5" y="23" font-size="13" fill="#555" textLength="9" lengthAdjust="spacingAndGlyphs">O</text>
<text x="339" y="23" font-size="13" fill="#7b2222" textLength="50.5" lengthAdjust="spacingAndGlyphs">2,332.30</text>
<text x="395.5" y="23" font-size="13" fill="#555" textLength="8.5" lengthAdjust="spacingAndGlyphs">H</text>
<text x="404.5" y="23" font-size="13" fill="#7b2222" textLength="50.5" lengthAdjust="spacingAndGlyphs">2,332.85</text>
<text x="461.5" y="23" font-size="13" fill="#555" textLength="7" lengthAdjust="spacingAndGlyphs">L</text>
<text x="469" y="23" font-size="13" fill="#7b2222" textLength="50.5" lengthAdjust="spacingAndGlyphs">2,315.60</text>
<text x="525.5" y="23" font-size="13" fill="#555" textLength="8.5" lengthAdjust="spacingAndGlyphs">C</text>
<text x="534.5" y="23" font-size="13" fill="#7b2222" textLength="50" lengthAdjust="spacingAndGlyphs">2,320.71</text>
<text x="591" y="23" font-size="13" fill="#7b2222" textLength="38" lengthAdjust="spacingAndGlyphs">−11.82</text>
<text x="634.5" y="23" font-size="13" fill="#7b2222" textLength="48" lengthAdjust="spacingAndGlyphs">(−0.51%)</text>
<rect x="12.5" y="34.5" width="61" height="23" rx="3.5" ry="3.5" fill="#fff" stroke="#f23645" stroke-width="1"/>
<text x="20.5" y="50.5" font-size="12.5" fill="#f23645" textLength="45" lengthAdjust="spacingAndGlyphs">2320.65</text>
<text x="82" y="50" font-size="11" fill="#131722" textLength="11" lengthAdjust="spacingAndGlyphs">38</text>
<rect x="101.5" y="34.5" width="61" height="23" rx="3.5" ry="3.5" fill="#fff" stroke="#2962ff" stroke-width="1"/>
<text x="109.5" y="50.5" font-size="12.5" fill="#2962ff" textLength="45" lengthAdjust="spacingAndGlyphs">2321.03</text>
<text x="13" y="78.6" font-size="12" fill="#555" textLength="383" lengthAdjust="spacingAndGlyphs">MA Ribbon SMA close 20 SMA close 50 SMA close 100 SMA close 200</text>
<text x="404" y="78.6" font-size="12" fill="#f23645" textLength="50" lengthAdjust="spacingAndGlyphs">2,339.43</text>
<text x="460" y="78.6" font-size="12" fill="#2962ff" textLength="50.5" lengthAdjust="spacingAndGlyphs">2,344.23</text>
<text x="516.8" y="78.8" font-size="12" fill="#131722" textLength="7" lengthAdjust="spacingAndGlyphs">Ø</text>
<text x="531" y="78.6" font-size="12" fill="#131722" textLength="50" lengthAdjust="spacingAndGlyphs">2,105.38</text>
<rect x="13.5" y="88.5" width="28" height="20" rx="3" ry="3" fill="#fff" stroke="#d1d4dc" stroke-width="1"/>
<path d="M23.8 100.3 l3.7 -3.7 l3.7 3.7" fill="none" stroke="#131722" stroke-width="1.3"/>
<text x="13.2" y="688" font-size="12" fill="#555" textLength="67" lengthAdjust="spacingAndGlyphs">ATR 14 RMA</text>
<text x="89" y="688" font-size="12" fill="#c62828" textLength="31" lengthAdjust="spacingAndGlyphs">34.88</text>
<text x="13.2" y="730" font-size="12" fill="#555" textLength="101.5" lengthAdjust="spacingAndGlyphs">CCI 20 hlc3 SMA 5</text>
<text x="124.2" y="730" font-size="12" fill="#2962ff" textLength="37" lengthAdjust="spacingAndGlyphs">−62.42</text>
<g fill="#131722" stroke="#fff" stroke-width="2.4" paint-order="stroke" stroke-linejoin="round" transform="translate(16,774.2)"><path d="M0 0 h11.8 v14.5 h-5.8 v-8.9 h-6 z"/><circle cx="16.9" cy="2.8" r="2.8"/><path d="M23.4 0 h6.5 l-5.6 14.5 h-7.1 z"/></g>
<g clip-path="url(#cpPanel)"><g filter="url(#wmsh)" opacity="0.88">
<g fill="none" stroke="#ffffff" stroke-width="6.4" stroke-linejoin="miter" stroke-linecap="butt">
<path d="M1312.6 740.0 L1310.9 747.3"/>
<path d="M1290.2 759.8 L1292.1 751.4 L1334.4 751.4"/>
<path d="M1304.8 761.8 L1321.7 761.8"/>
<path d="M1304.8 761.8 L1301.9 770.2"/>
<path d="M1317.9 761.8 L1316.9 770.2"/>
<path d="M1296.7 776.4 L1312.7 776.4"/>
<path d="M1297.6 776.4 L1294.5 785.8"/>
<path d="M1308.0 776.4 L1308.6 785.8"/>
<path d="M1335.4 747.3 L1328.9 771.2 L1323.2 792.0 L1280.9 792.0"/>
<path d="M1356.5 745.2 L1392.0 745.2"/>
<path d="M1363.2 745.2 L1357.2 762.9"/>
<path d="M1344.0 770.2 L1383.4 770.2"/>
<path d="M1339.0 787.8 L1374.5 787.8"/>
<path d="M1395.8 745.2 L1388.9 771.2 L1382.6 794.1 L1361.5 794.1"/>
<path d="M1412.3 743.1 L1431.3 743.1 L1423.6 776.4 L1404.6 776.4 L1412.3 743.1"/>
<path d="M1408.4 759.8 L1427.4 759.8"/>
<path d="M1410.6 776.4 L1398.0 792.0"/>
<path d="M1417.6 776.4 L1422.0 792.0"/>
<path d="M1434.9 753.5 L1456.9 753.5"/>
<path d="M1452.0 740.0 L1440.0 792.0 L1431.0 787.8"/>
<path d="M1446.9 757.7 L1427.4 781.6"/>
<path d="M1488.6 740.0 L1472.4 753.8 L1484.4 753.8 L1467.0 768.5 L1484.7 765.8"/>
<path d="M1461.4 784.2 L1482.7 778.6"/>
<path d="M1495.6 744.6 L1518.6 744.6 L1491.9 764.8"/>
<path d="M1500.1 751.0 L1516.1 763.9"/>
<path d="M1490.6 770.4 L1513.6 770.4"/>
<path d="M1502.1 770.4 L1498.7 785.1"/>
<path d="M1483.2 785.1 L1511.2 785.1"/>
</g></g></g>
</svg></body></html>
